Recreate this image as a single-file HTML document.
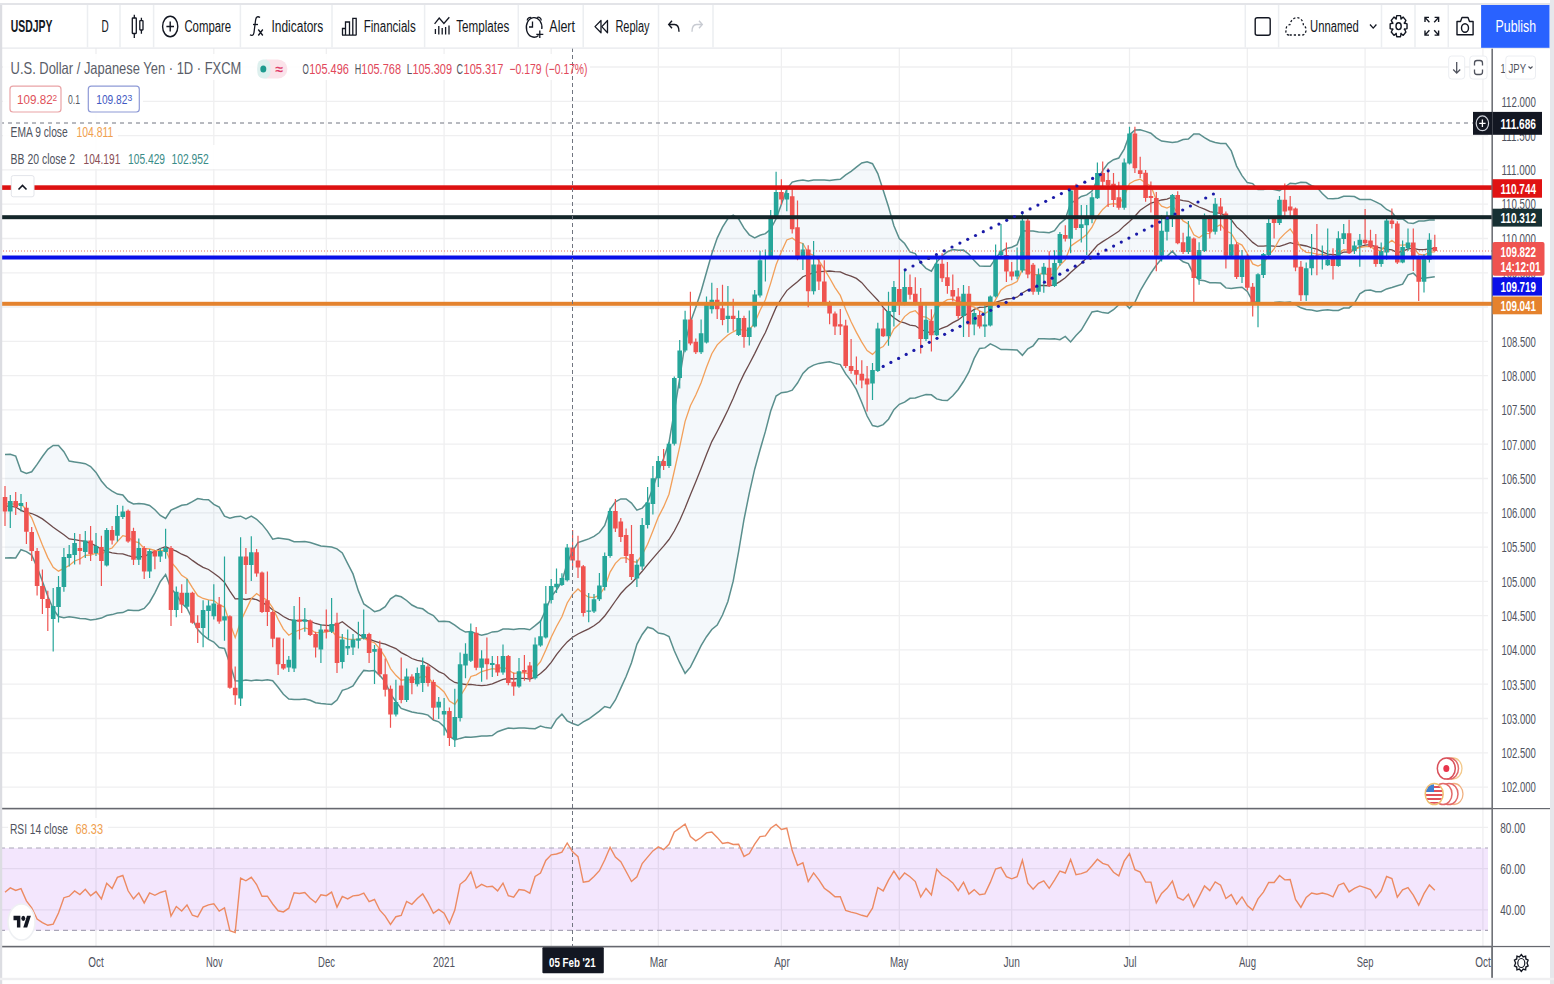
<!DOCTYPE html><html><head><meta charset="utf-8"><style>html,body{margin:0;padding:0;width:1554px;height:984px;overflow:hidden;background:#fff}svg{display:block}text{font-family:"Liberation Sans", sans-serif}</style></head><body>
<svg width="1554" height="984" viewBox="0 0 1554 984">
<rect width="1554" height="984" fill="#fff"/>
<rect x="0" y="848.0" width="1488" height="82.4" fill="#f3e6fd"/>
<path d="M0 67.0H1488 M0 101.3H1488 M0 135.6H1488 M0 169.9H1488 M0 204.2H1488 M0 238.5H1488 M0 272.8H1488 M0 307.0H1488 M0 341.3H1488 M0 375.6H1488 M0 409.9H1488 M0 444.2H1488 M0 478.5H1488 M0 512.8H1488 M0 547.1H1488 M0 581.4H1488 M0 615.6H1488 M0 649.9H1488 M0 684.2H1488 M0 718.5H1488 M0 752.8H1488 M0 787.1H1488 M0 827.4H1488 M0 868.6H1488 M0 909.8H1488 M96.0 48V946 M213.8 48V946 M326.3 48V946 M444.1 48V946 M551.2 48V946 M658.3 48V946 M781.4 48V946 M899.3 48V946 M1011.7 48V946 M1129.5 48V946 M1247.3 48V946 M1365.1 48V946 M1482.9 48V946" stroke="#2a2e39" stroke-opacity="0.075" stroke-width="1.3" fill="none"/>
<polygon points="5.0,454.6 10.3,454.3 15.7,456.0 21.0,471.1 26.4,473.5 31.7,471.8 37.1,464.4 42.4,456.5 47.8,449.4 53.2,445.4 58.5,445.4 63.9,451.7 69.2,461.1 74.6,462.0 79.9,462.8 85.3,463.7 90.6,466.6 96.0,472.4 101.4,481.0 106.7,487.3 112.1,491.1 117.4,494.1 122.8,495.0 128.1,501.3 133.5,503.9 138.8,503.6 144.2,504.1 149.6,505.5 154.9,509.7 160.3,515.4 165.6,518.5 171.0,510.0 176.3,507.7 181.7,505.2 187.0,504.5 192.4,501.7 197.7,498.6 203.1,499.4 208.5,499.7 213.8,504.4 219.2,507.1 224.5,516.1 229.9,518.3 235.2,516.7 240.6,516.2 245.9,518.8 251.3,516.1 256.6,519.3 262.0,524.4 267.4,531.1 272.7,539.2 278.1,538.1 283.4,538.8 288.8,539.5 294.1,541.8 299.5,541.8 304.8,541.4 310.2,542.5 315.6,544.2 320.9,546.0 326.3,546.5 331.6,547.0 337.0,548.9 342.3,553.0 347.7,563.7 353.0,573.9 358.4,590.9 363.8,604.0 369.1,607.5 374.5,611.7 379.8,610.2 385.2,606.6 390.5,598.9 395.9,595.4 401.2,596.8 406.6,600.5 411.9,605.0 417.3,607.7 422.7,608.8 428.0,612.8 433.4,615.5 438.7,621.5 444.1,621.2 449.4,621.8 454.8,625.1 460.1,629.1 465.5,632.1 470.9,631.5 476.2,633.6 481.6,635.2 486.9,634.1 492.3,631.9 497.6,631.6 503.0,629.0 508.3,629.0 513.7,629.4 519.0,628.8 524.4,628.7 529.8,629.8 535.1,625.7 540.5,621.2 545.8,609.7 551.2,596.7 556.5,590.0 561.9,581.4 567.2,563.1 572.6,551.0 578.0,542.6 583.3,540.8 588.7,538.9 594.0,536.3 599.4,532.5 604.7,525.4 610.1,509.4 615.4,501.9 620.8,498.9 626.1,499.0 631.5,503.1 636.9,510.2 642.2,508.1 647.6,502.0 652.9,488.0 658.3,471.3 663.6,458.6 669.0,442.6 674.3,411.4 679.7,378.3 685.1,343.0 690.4,322.2 695.8,307.2 701.1,291.3 706.5,272.2 711.8,253.8 717.2,238.1 722.5,227.2 727.9,218.6 733.2,215.2 738.6,218.8 744.0,228.2 749.3,234.8 754.7,237.9 760.0,235.3 765.4,233.6 770.7,229.0 776.1,218.8 781.4,204.3 786.8,189.1 792.2,182.1 797.5,180.7 802.9,180.0 808.2,181.1 813.6,180.1 818.9,179.9 824.3,180.1 829.6,180.4 835.0,179.8 840.3,179.3 845.7,174.8 851.1,171.3 856.4,167.2 861.8,163.0 867.1,161.8 872.5,163.7 877.8,173.6 883.2,190.2 888.5,206.8 893.9,225.7 899.3,238.5 904.6,243.5 910.0,251.9 915.3,253.6 920.7,262.8 926.0,268.3 931.4,271.2 936.7,262.1 942.1,256.0 947.4,251.7 952.8,249.5 958.2,250.2 963.5,250.1 968.9,254.2 974.2,260.5 979.6,266.0 984.9,266.2 990.3,266.3 995.6,258.4 1001.0,251.7 1006.4,248.5 1011.7,247.2 1017.1,244.6 1022.4,230.8 1027.8,230.9 1033.1,231.1 1038.5,232.0 1043.8,232.3 1049.2,232.8 1054.5,230.7 1059.9,223.6 1065.3,219.1 1070.6,203.3 1076.0,200.2 1081.3,196.5 1086.7,194.9 1092.0,191.1 1097.4,179.6 1102.7,170.6 1108.1,163.4 1113.5,159.7 1118.8,158.0 1124.2,149.1 1129.5,134.8 1134.9,130.1 1140.2,129.8 1145.6,131.4 1150.9,133.2 1156.3,137.9 1161.6,141.1 1167.0,141.8 1172.4,142.5 1177.7,141.7 1183.1,139.6 1188.4,139.1 1193.8,133.9 1199.1,133.9 1204.5,137.7 1209.8,140.7 1215.2,142.5 1220.6,143.4 1225.9,143.5 1231.3,150.9 1236.6,166.1 1242.0,175.6 1247.3,182.6 1252.7,183.6 1258.0,189.5 1263.4,189.5 1268.7,188.6 1274.1,189.5 1279.5,190.6 1284.8,187.0 1290.2,183.2 1295.5,183.8 1300.9,182.3 1306.2,182.5 1311.6,185.7 1316.9,187.3 1322.3,193.5 1327.7,198.5 1333.0,198.8 1338.4,198.2 1343.7,196.3 1349.1,196.2 1354.4,196.5 1359.8,199.5 1365.1,199.6 1370.5,199.4 1375.8,201.9 1381.2,204.6 1386.6,209.5 1391.9,212.2 1397.3,219.1 1402.6,218.8 1408.0,222.9 1413.3,223.5 1418.7,221.0 1424.0,221.0 1429.4,220.0 1434.8,220.0 1434.8,276.8 1429.4,277.6 1424.0,278.3 1418.7,278.3 1413.3,273.1 1408.0,274.8 1402.6,284.1 1397.3,285.8 1391.9,287.5 1386.6,288.9 1381.2,291.7 1375.8,291.7 1370.5,290.0 1365.1,290.6 1359.8,293.8 1354.4,303.3 1349.1,307.9 1343.7,308.1 1338.4,310.5 1333.0,310.6 1327.7,309.8 1322.3,310.2 1316.9,311.2 1311.6,310.1 1306.2,309.5 1300.9,307.8 1295.5,304.6 1290.2,302.1 1284.8,302.4 1279.5,302.0 1274.1,302.6 1268.7,302.9 1263.4,302.7 1258.0,302.9 1252.7,301.3 1247.3,291.5 1242.0,287.2 1236.6,287.8 1231.3,288.6 1225.9,287.9 1220.6,283.1 1215.2,282.7 1209.8,282.7 1204.5,280.7 1199.1,280.1 1193.8,274.8 1188.4,263.6 1183.1,261.8 1177.7,257.4 1172.4,251.2 1167.0,256.4 1161.6,258.8 1156.3,265.3 1150.9,273.0 1145.6,281.6 1140.2,290.9 1134.9,302.3 1129.5,308.3 1124.2,302.7 1118.8,304.6 1113.5,309.7 1108.1,313.2 1102.7,312.6 1097.4,311.0 1092.0,311.9 1086.7,320.8 1081.3,330.1 1076.0,335.4 1070.6,341.9 1065.3,336.4 1059.9,339.7 1054.5,338.8 1049.2,339.0 1043.8,338.7 1038.5,338.8 1033.1,345.8 1027.8,348.8 1022.4,355.3 1017.1,349.9 1011.7,349.7 1006.4,349.5 1001.0,349.6 995.6,346.4 990.3,343.9 984.9,347.9 979.6,348.5 974.2,358.4 968.9,371.9 963.5,381.5 958.2,389.5 952.8,395.7 947.4,400.5 942.1,400.2 936.7,398.9 931.4,394.8 926.0,394.6 920.7,396.1 915.3,398.0 910.0,398.3 904.6,402.2 899.3,404.3 893.9,409.6 888.5,419.2 883.2,424.6 877.8,426.8 872.5,425.5 867.1,416.0 861.8,402.5 856.4,389.7 851.1,380.8 845.7,373.9 840.3,364.6 835.0,363.4 829.6,361.7 824.3,362.6 818.9,363.4 813.6,365.1 808.2,368.1 802.9,373.4 797.5,383.0 792.2,390.1 786.8,392.1 781.4,392.7 776.1,396.1 770.7,411.0 765.4,431.4 760.0,450.0 754.7,469.2 749.3,493.1 744.0,519.5 738.6,551.7 733.2,581.2 727.9,601.5 722.5,615.0 717.2,625.0 711.8,629.5 706.5,636.7 701.1,645.6 695.8,656.3 690.4,667.2 685.1,673.3 679.7,662.7 674.3,650.7 669.0,636.5 663.6,633.9 658.3,633.0 652.9,628.7 647.6,627.2 642.2,634.5 636.9,644.3 631.5,662.8 626.1,676.5 620.8,688.1 615.4,700.0 610.1,708.0 604.7,706.5 599.4,711.1 594.0,715.1 588.7,719.0 583.3,721.8 578.0,725.5 572.6,723.5 567.2,720.8 561.9,714.1 556.5,719.4 551.2,728.2 545.8,727.6 540.5,726.0 535.1,728.7 529.8,728.4 524.4,728.1 519.0,728.1 513.7,728.6 508.3,728.0 503.0,729.7 497.6,731.7 492.3,735.6 486.9,736.1 481.6,736.0 476.2,736.7 470.9,737.3 465.5,737.0 460.1,738.4 454.8,739.9 449.4,736.2 444.1,726.8 438.7,721.8 433.4,720.0 428.0,715.1 422.7,713.7 417.3,713.1 411.9,712.0 406.6,710.2 401.2,708.4 395.9,701.7 390.5,694.0 385.2,681.7 379.8,675.6 374.5,670.5 369.1,671.0 363.8,670.4 358.4,677.5 353.0,685.9 347.7,688.6 342.3,690.3 337.0,700.0 331.6,704.4 326.3,704.1 320.9,703.6 315.6,702.8 310.2,700.3 304.8,698.9 299.5,699.4 294.1,699.5 288.8,699.1 283.4,694.3 278.1,687.3 272.7,680.8 267.4,679.8 262.0,680.4 256.6,679.9 251.3,680.8 245.9,680.1 240.6,681.0 235.2,680.8 229.9,663.8 224.5,648.5 219.2,647.5 213.8,642.0 208.5,639.3 203.1,635.2 197.7,629.6 192.4,619.1 187.0,608.1 181.7,603.2 176.3,594.5 171.0,588.5 165.6,574.6 160.3,581.7 154.9,592.8 149.6,602.2 144.2,608.4 138.8,610.4 133.5,610.4 128.1,610.1 122.8,612.6 117.4,613.1 112.1,614.6 106.7,615.5 101.4,618.1 96.0,619.3 90.6,620.0 85.3,618.8 79.9,618.4 74.6,617.5 69.2,616.8 63.9,617.8 58.5,616.5 53.2,609.1 47.8,596.3 42.4,581.3 37.1,567.3 31.7,555.1 26.4,551.6 21.0,549.7 15.7,558.0 10.3,557.8 5.0,557.9" fill="#3d8bc0" fill-opacity="0.06"/>
<polyline points="5.0,454.6 10.3,454.3 15.7,456.0 21.0,471.1 26.4,473.5 31.7,471.8 37.1,464.4 42.4,456.5 47.8,449.4 53.2,445.4 58.5,445.4 63.9,451.7 69.2,461.1 74.6,462.0 79.9,462.8 85.3,463.7 90.6,466.6 96.0,472.4 101.4,481.0 106.7,487.3 112.1,491.1 117.4,494.1 122.8,495.0 128.1,501.3 133.5,503.9 138.8,503.6 144.2,504.1 149.6,505.5 154.9,509.7 160.3,515.4 165.6,518.5 171.0,510.0 176.3,507.7 181.7,505.2 187.0,504.5 192.4,501.7 197.7,498.6 203.1,499.4 208.5,499.7 213.8,504.4 219.2,507.1 224.5,516.1 229.9,518.3 235.2,516.7 240.6,516.2 245.9,518.8 251.3,516.1 256.6,519.3 262.0,524.4 267.4,531.1 272.7,539.2 278.1,538.1 283.4,538.8 288.8,539.5 294.1,541.8 299.5,541.8 304.8,541.4 310.2,542.5 315.6,544.2 320.9,546.0 326.3,546.5 331.6,547.0 337.0,548.9 342.3,553.0 347.7,563.7 353.0,573.9 358.4,590.9 363.8,604.0 369.1,607.5 374.5,611.7 379.8,610.2 385.2,606.6 390.5,598.9 395.9,595.4 401.2,596.8 406.6,600.5 411.9,605.0 417.3,607.7 422.7,608.8 428.0,612.8 433.4,615.5 438.7,621.5 444.1,621.2 449.4,621.8 454.8,625.1 460.1,629.1 465.5,632.1 470.9,631.5 476.2,633.6 481.6,635.2 486.9,634.1 492.3,631.9 497.6,631.6 503.0,629.0 508.3,629.0 513.7,629.4 519.0,628.8 524.4,628.7 529.8,629.8 535.1,625.7 540.5,621.2 545.8,609.7 551.2,596.7 556.5,590.0 561.9,581.4 567.2,563.1 572.6,551.0 578.0,542.6 583.3,540.8 588.7,538.9 594.0,536.3 599.4,532.5 604.7,525.4 610.1,509.4 615.4,501.9 620.8,498.9 626.1,499.0 631.5,503.1 636.9,510.2 642.2,508.1 647.6,502.0 652.9,488.0 658.3,471.3 663.6,458.6 669.0,442.6 674.3,411.4 679.7,378.3 685.1,343.0 690.4,322.2 695.8,307.2 701.1,291.3 706.5,272.2 711.8,253.8 717.2,238.1 722.5,227.2 727.9,218.6 733.2,215.2 738.6,218.8 744.0,228.2 749.3,234.8 754.7,237.9 760.0,235.3 765.4,233.6 770.7,229.0 776.1,218.8 781.4,204.3 786.8,189.1 792.2,182.1 797.5,180.7 802.9,180.0 808.2,181.1 813.6,180.1 818.9,179.9 824.3,180.1 829.6,180.4 835.0,179.8 840.3,179.3 845.7,174.8 851.1,171.3 856.4,167.2 861.8,163.0 867.1,161.8 872.5,163.7 877.8,173.6 883.2,190.2 888.5,206.8 893.9,225.7 899.3,238.5 904.6,243.5 910.0,251.9 915.3,253.6 920.7,262.8 926.0,268.3 931.4,271.2 936.7,262.1 942.1,256.0 947.4,251.7 952.8,249.5 958.2,250.2 963.5,250.1 968.9,254.2 974.2,260.5 979.6,266.0 984.9,266.2 990.3,266.3 995.6,258.4 1001.0,251.7 1006.4,248.5 1011.7,247.2 1017.1,244.6 1022.4,230.8 1027.8,230.9 1033.1,231.1 1038.5,232.0 1043.8,232.3 1049.2,232.8 1054.5,230.7 1059.9,223.6 1065.3,219.1 1070.6,203.3 1076.0,200.2 1081.3,196.5 1086.7,194.9 1092.0,191.1 1097.4,179.6 1102.7,170.6 1108.1,163.4 1113.5,159.7 1118.8,158.0 1124.2,149.1 1129.5,134.8 1134.9,130.1 1140.2,129.8 1145.6,131.4 1150.9,133.2 1156.3,137.9 1161.6,141.1 1167.0,141.8 1172.4,142.5 1177.7,141.7 1183.1,139.6 1188.4,139.1 1193.8,133.9 1199.1,133.9 1204.5,137.7 1209.8,140.7 1215.2,142.5 1220.6,143.4 1225.9,143.5 1231.3,150.9 1236.6,166.1 1242.0,175.6 1247.3,182.6 1252.7,183.6 1258.0,189.5 1263.4,189.5 1268.7,188.6 1274.1,189.5 1279.5,190.6 1284.8,187.0 1290.2,183.2 1295.5,183.8 1300.9,182.3 1306.2,182.5 1311.6,185.7 1316.9,187.3 1322.3,193.5 1327.7,198.5 1333.0,198.8 1338.4,198.2 1343.7,196.3 1349.1,196.2 1354.4,196.5 1359.8,199.5 1365.1,199.6 1370.5,199.4 1375.8,201.9 1381.2,204.6 1386.6,209.5 1391.9,212.2 1397.3,219.1 1402.6,218.8 1408.0,222.9 1413.3,223.5 1418.7,221.0 1424.0,221.0 1429.4,220.0 1434.8,220.0" fill="none" stroke="#5a8f8d" stroke-width="1.5"/>
<polyline points="5.0,557.9 10.3,557.8 15.7,558.0 21.0,549.7 26.4,551.6 31.7,555.1 37.1,567.3 42.4,581.3 47.8,596.3 53.2,609.1 58.5,616.5 63.9,617.8 69.2,616.8 74.6,617.5 79.9,618.4 85.3,618.8 90.6,620.0 96.0,619.3 101.4,618.1 106.7,615.5 112.1,614.6 117.4,613.1 122.8,612.6 128.1,610.1 133.5,610.4 138.8,610.4 144.2,608.4 149.6,602.2 154.9,592.8 160.3,581.7 165.6,574.6 171.0,588.5 176.3,594.5 181.7,603.2 187.0,608.1 192.4,619.1 197.7,629.6 203.1,635.2 208.5,639.3 213.8,642.0 219.2,647.5 224.5,648.5 229.9,663.8 235.2,680.8 240.6,681.0 245.9,680.1 251.3,680.8 256.6,679.9 262.0,680.4 267.4,679.8 272.7,680.8 278.1,687.3 283.4,694.3 288.8,699.1 294.1,699.5 299.5,699.4 304.8,698.9 310.2,700.3 315.6,702.8 320.9,703.6 326.3,704.1 331.6,704.4 337.0,700.0 342.3,690.3 347.7,688.6 353.0,685.9 358.4,677.5 363.8,670.4 369.1,671.0 374.5,670.5 379.8,675.6 385.2,681.7 390.5,694.0 395.9,701.7 401.2,708.4 406.6,710.2 411.9,712.0 417.3,713.1 422.7,713.7 428.0,715.1 433.4,720.0 438.7,721.8 444.1,726.8 449.4,736.2 454.8,739.9 460.1,738.4 465.5,737.0 470.9,737.3 476.2,736.7 481.6,736.0 486.9,736.1 492.3,735.6 497.6,731.7 503.0,729.7 508.3,728.0 513.7,728.6 519.0,728.1 524.4,728.1 529.8,728.4 535.1,728.7 540.5,726.0 545.8,727.6 551.2,728.2 556.5,719.4 561.9,714.1 567.2,720.8 572.6,723.5 578.0,725.5 583.3,721.8 588.7,719.0 594.0,715.1 599.4,711.1 604.7,706.5 610.1,708.0 615.4,700.0 620.8,688.1 626.1,676.5 631.5,662.8 636.9,644.3 642.2,634.5 647.6,627.2 652.9,628.7 658.3,633.0 663.6,633.9 669.0,636.5 674.3,650.7 679.7,662.7 685.1,673.3 690.4,667.2 695.8,656.3 701.1,645.6 706.5,636.7 711.8,629.5 717.2,625.0 722.5,615.0 727.9,601.5 733.2,581.2 738.6,551.7 744.0,519.5 749.3,493.1 754.7,469.2 760.0,450.0 765.4,431.4 770.7,411.0 776.1,396.1 781.4,392.7 786.8,392.1 792.2,390.1 797.5,383.0 802.9,373.4 808.2,368.1 813.6,365.1 818.9,363.4 824.3,362.6 829.6,361.7 835.0,363.4 840.3,364.6 845.7,373.9 851.1,380.8 856.4,389.7 861.8,402.5 867.1,416.0 872.5,425.5 877.8,426.8 883.2,424.6 888.5,419.2 893.9,409.6 899.3,404.3 904.6,402.2 910.0,398.3 915.3,398.0 920.7,396.1 926.0,394.6 931.4,394.8 936.7,398.9 942.1,400.2 947.4,400.5 952.8,395.7 958.2,389.5 963.5,381.5 968.9,371.9 974.2,358.4 979.6,348.5 984.9,347.9 990.3,343.9 995.6,346.4 1001.0,349.6 1006.4,349.5 1011.7,349.7 1017.1,349.9 1022.4,355.3 1027.8,348.8 1033.1,345.8 1038.5,338.8 1043.8,338.7 1049.2,339.0 1054.5,338.8 1059.9,339.7 1065.3,336.4 1070.6,341.9 1076.0,335.4 1081.3,330.1 1086.7,320.8 1092.0,311.9 1097.4,311.0 1102.7,312.6 1108.1,313.2 1113.5,309.7 1118.8,304.6 1124.2,302.7 1129.5,308.3 1134.9,302.3 1140.2,290.9 1145.6,281.6 1150.9,273.0 1156.3,265.3 1161.6,258.8 1167.0,256.4 1172.4,251.2 1177.7,257.4 1183.1,261.8 1188.4,263.6 1193.8,274.8 1199.1,280.1 1204.5,280.7 1209.8,282.7 1215.2,282.7 1220.6,283.1 1225.9,287.9 1231.3,288.6 1236.6,287.8 1242.0,287.2 1247.3,291.5 1252.7,301.3 1258.0,302.9 1263.4,302.7 1268.7,302.9 1274.1,302.6 1279.5,302.0 1284.8,302.4 1290.2,302.1 1295.5,304.6 1300.9,307.8 1306.2,309.5 1311.6,310.1 1316.9,311.2 1322.3,310.2 1327.7,309.8 1333.0,310.6 1338.4,310.5 1343.7,308.1 1349.1,307.9 1354.4,303.3 1359.8,293.8 1365.1,290.6 1370.5,290.0 1375.8,291.7 1381.2,291.7 1386.6,288.9 1391.9,287.5 1397.3,285.8 1402.6,284.1 1408.0,274.8 1413.3,273.1 1418.7,278.3 1424.0,278.3 1429.4,277.6 1434.8,276.8" fill="none" stroke="#5a8f8d" stroke-width="1.5"/>
<polyline points="5.0,506.2 10.3,506.1 15.7,507.0 21.0,510.4 26.4,512.5 31.7,513.5 37.1,515.9 42.4,518.9 47.8,522.9 53.2,527.2 58.5,531.0 63.9,534.8 69.2,538.9 74.6,539.7 79.9,540.6 85.3,541.3 90.6,543.3 96.0,545.8 101.4,549.5 106.7,551.4 112.1,552.8 117.4,553.6 122.8,553.8 128.1,555.7 133.5,557.1 138.8,557.0 144.2,556.3 149.6,553.9 154.9,551.3 160.3,548.5 165.6,546.6 171.0,549.2 176.3,551.1 181.7,554.2 187.0,556.3 192.4,560.4 197.7,564.1 203.1,567.3 208.5,569.5 213.8,573.2 219.2,577.3 224.5,582.3 229.9,591.1 235.2,598.8 240.6,598.6 245.9,599.5 251.3,598.5 256.6,599.6 262.0,602.4 267.4,605.4 272.7,610.0 278.1,612.7 283.4,616.5 288.8,619.3 294.1,620.6 299.5,620.6 304.8,620.1 310.2,621.4 315.6,623.5 320.9,624.8 326.3,625.3 331.6,625.7 337.0,624.5 342.3,621.7 347.7,626.1 353.0,629.9 358.4,634.2 363.8,637.2 369.1,639.2 374.5,641.1 379.8,642.9 385.2,644.1 390.5,646.4 395.9,648.6 401.2,652.6 406.6,655.3 411.9,658.5 417.3,660.4 422.7,661.3 428.0,664.0 433.4,667.8 438.7,671.6 444.1,674.0 449.4,679.0 454.8,682.5 460.1,683.7 465.5,684.5 470.9,684.4 476.2,685.1 481.6,685.6 486.9,685.1 492.3,683.8 497.6,681.7 503.0,679.4 508.3,678.5 513.7,679.0 519.0,678.4 524.4,678.4 529.8,679.1 535.1,677.2 540.5,673.6 545.8,668.7 551.2,662.4 556.5,654.7 561.9,647.8 567.2,641.9 572.6,637.3 578.0,634.0 583.3,631.3 588.7,628.9 594.0,625.7 599.4,621.8 604.7,616.0 610.1,608.7 615.4,601.0 620.8,593.5 626.1,587.7 631.5,583.0 636.9,577.3 642.2,571.3 647.6,564.6 652.9,558.4 658.3,552.1 663.6,546.2 669.0,539.5 674.3,531.0 679.7,520.5 685.1,508.1 690.4,494.7 695.8,481.8 701.1,468.4 706.5,454.4 711.8,441.6 717.2,431.5 722.5,421.1 727.9,410.0 733.2,398.2 738.6,385.2 744.0,373.9 749.3,364.0 754.7,353.6 760.0,342.7 765.4,332.5 770.7,320.0 776.1,307.4 781.4,298.5 786.8,290.6 792.2,286.1 797.5,281.8 802.9,276.7 808.2,274.6 813.6,272.6 818.9,271.7 824.3,271.4 829.6,271.0 835.0,271.6 840.3,271.9 845.7,274.4 851.1,276.1 856.4,278.4 861.8,282.7 867.1,288.9 872.5,294.6 877.8,300.2 883.2,307.4 888.5,313.0 893.9,317.7 899.3,321.4 904.6,322.9 910.0,325.1 915.3,325.8 920.7,329.5 926.0,331.4 931.4,333.0 936.7,330.5 942.1,328.1 947.4,326.1 952.8,322.6 958.2,319.9 963.5,315.8 968.9,313.0 974.2,309.4 979.6,307.3 984.9,307.1 990.3,305.1 995.6,302.4 1001.0,300.6 1006.4,299.0 1011.7,298.4 1017.1,297.2 1022.4,293.0 1027.8,289.8 1033.1,288.4 1038.5,285.4 1043.8,285.5 1049.2,285.9 1054.5,284.8 1059.9,281.6 1065.3,277.8 1070.6,272.6 1076.0,267.8 1081.3,263.3 1086.7,257.9 1092.0,251.5 1097.4,245.3 1102.7,241.6 1108.1,238.3 1113.5,234.7 1118.8,231.3 1124.2,225.9 1129.5,221.5 1134.9,216.2 1140.2,210.3 1145.6,206.5 1150.9,203.1 1156.3,201.6 1161.6,200.0 1167.0,199.1 1172.4,196.9 1177.7,199.5 1183.1,200.7 1188.4,201.3 1193.8,204.4 1199.1,207.0 1204.5,209.2 1209.8,211.7 1215.2,212.6 1220.6,213.3 1225.9,215.7 1231.3,219.8 1236.6,226.9 1242.0,231.4 1247.3,237.1 1252.7,242.4 1258.0,246.2 1263.4,246.1 1268.7,245.7 1274.1,246.1 1279.5,246.3 1284.8,244.7 1290.2,242.6 1295.5,244.2 1300.9,245.0 1306.2,246.0 1311.6,247.9 1316.9,249.2 1322.3,251.8 1327.7,254.2 1333.0,254.7 1338.4,254.4 1343.7,252.2 1349.1,252.0 1354.4,249.9 1359.8,246.6 1365.1,245.1 1370.5,244.7 1375.8,246.8 1381.2,248.2 1386.6,249.2 1391.9,249.9 1397.3,252.5 1402.6,251.4 1408.0,248.8 1413.3,248.3 1418.7,249.6 1424.0,249.6 1429.4,248.8 1434.8,248.4" fill="none" stroke="#6b4a4a" stroke-width="1.3"/>
<polyline points="5.0,504.2 10.3,503.6 15.7,504.3 21.0,504.0 26.4,509.6 31.7,517.8 37.1,531.5 42.4,545.0 47.8,557.6 53.2,567.3 58.5,571.2 63.9,568.4 69.2,565.5 74.6,561.0 79.9,559.0 85.3,555.3 90.6,555.0 96.0,553.2 101.4,554.8 106.7,549.8 112.1,548.0 117.4,541.6 122.8,535.6 128.1,536.8 133.5,541.4 138.8,542.7 144.2,548.4 149.6,549.0 154.9,550.5 160.3,550.6 165.6,550.1 171.0,562.0 176.3,568.0 181.7,575.3 187.0,578.8 192.4,587.6 197.7,595.7 203.1,598.5 208.5,599.9 213.8,600.6 219.2,604.8 224.5,607.1 229.9,623.2 235.2,637.6 240.6,621.4 245.9,610.1 251.3,598.6 256.6,593.6 262.0,597.3 267.4,600.2 272.7,607.9 278.1,619.2 283.4,629.1 288.8,635.2 294.1,632.0 299.5,630.0 304.8,627.9 310.2,629.3 315.6,632.9 320.9,632.2 326.3,632.1 331.6,630.5 337.0,637.0 342.3,637.5 347.7,639.2 353.0,639.3 358.4,639.1 363.8,638.1 369.1,641.1 374.5,642.7 379.8,649.0 385.2,657.1 390.5,668.6 395.9,675.3 401.2,680.2 406.6,679.4 411.9,680.2 417.3,678.7 422.7,676.0 428.0,677.4 433.4,683.5 438.7,687.1 444.1,691.9 449.4,701.1 454.8,704.3 460.1,696.3 465.5,687.8 470.9,676.5 476.2,674.8 481.6,671.5 486.9,670.1 492.3,668.7 497.6,669.4 503.0,666.7 508.3,670.0 513.7,673.3 519.0,672.9 524.4,672.8 529.8,673.9 535.1,668.0 540.5,661.7 545.8,650.1 551.2,637.3 556.5,626.5 561.9,616.8 567.2,603.0 572.6,594.4 578.0,589.0 583.3,593.8 588.7,597.2 594.0,597.6 599.4,595.2 604.7,587.3 610.1,572.1 615.4,563.3 620.8,558.1 626.1,557.7 631.5,561.5 636.9,562.2 642.2,554.7 647.6,544.3 652.9,531.1 658.3,517.1 663.6,506.9 669.0,494.2 674.3,471.0 679.7,446.9 685.1,421.4 690.4,405.8 695.8,395.1 701.1,382.7 706.5,367.2 711.8,353.7 717.2,344.8 722.5,339.8 727.9,335.0 733.2,331.8 738.6,329.0 744.0,330.6 749.3,330.0 754.7,322.9 760.0,310.4 765.4,299.7 770.7,283.1 776.1,264.8 781.4,251.8 786.8,240.0 792.2,237.9 797.5,241.9 802.9,243.5 808.2,253.0 813.6,255.3 818.9,260.6 824.3,269.1 829.6,278.0 835.0,287.6 840.3,295.4 845.7,309.5 851.1,321.8 856.4,332.4 861.8,342.1 867.1,350.5 872.5,354.4 877.8,349.2 883.2,346.6 888.5,339.5 893.9,329.0 899.3,324.1 904.6,316.6 910.0,312.3 915.3,310.7 920.7,316.3 926.0,317.0 931.4,320.7 936.7,309.3 942.1,303.1 947.4,299.7 952.8,299.1 958.2,302.4 963.5,300.7 968.9,305.5 974.2,307.0 979.6,310.9 984.9,313.6 990.3,310.2 995.6,299.6 1001.0,289.9 1006.4,286.2 1011.7,284.3 1017.1,281.5 1022.4,269.3 1027.8,270.3 1033.1,274.6 1038.5,274.6 1043.8,273.0 1049.2,275.6 1054.5,273.1 1059.9,265.2 1065.3,259.9 1070.6,246.1 1076.0,242.4 1081.3,238.8 1086.7,234.5 1092.0,227.1 1097.4,216.3 1102.7,209.4 1108.1,204.6 1113.5,203.7 1118.8,204.5 1124.2,196.1 1129.5,183.6 1134.9,180.5 1140.2,179.2 1145.6,183.0 1150.9,186.0 1156.3,199.9 1161.6,206.1 1167.0,208.1 1172.4,205.5 1177.7,213.1 1183.1,220.9 1188.4,224.0 1193.8,234.8 1199.1,237.8 1204.5,233.7 1209.8,233.3 1215.2,227.4 1220.6,224.6 1225.9,230.8 1231.3,233.5 1236.6,242.2 1242.0,245.1 1247.3,253.6 1252.7,263.9 1258.0,266.0 1263.4,263.6 1268.7,255.4 1274.1,249.0 1279.5,239.1 1284.8,233.6 1290.2,229.0 1295.5,236.7 1300.9,248.4 1306.2,252.3 1311.6,252.9 1316.9,254.2 1322.3,254.5 1327.7,255.6 1333.0,257.6 1338.4,253.8 1343.7,249.7 1349.1,250.4 1354.4,249.4 1359.8,247.5 1365.1,246.6 1370.5,246.7 1375.8,250.1 1381.2,250.3 1386.6,244.4 1391.9,240.3 1397.3,244.8 1402.6,245.2 1408.0,244.7 1413.3,247.4 1418.7,254.2 1424.0,255.2 1429.4,252.1 1434.8,251.9" fill="none" stroke="#f2a05a" stroke-width="1.3"/>
<path d="M9.7 495.0h1.2V528.0h-1.2Z M8.0 501.0h4.6V511.5h-4.6Z M20.4 494.0h1.2V511.5h-1.2Z M18.7 503.0h4.6V506.0h-4.6Z M52.6 588.0h1.2V651.6h-1.2Z M50.9 606.0h4.6V619.0h-4.6Z M57.9 576.0h1.2V622.6h-1.2Z M56.2 587.0h4.6V607.0h-4.6Z M63.3 548.0h1.2V591.7h-1.2Z M61.6 557.0h4.6V587.0h-4.6Z M68.6 545.0h1.2V566.6h-1.2Z M66.9 554.0h4.6V558.0h-4.6Z M74.0 533.0h1.2V564.6h-1.2Z M72.3 543.0h4.6V555.0h-4.6Z M84.7 531.0h1.2V558.0h-1.2Z M83.0 540.5h4.6V552.0h-4.6Z M95.4 533.0h1.2V556.0h-1.2Z M93.7 546.0h4.6V553.0h-4.6Z M106.1 528.0h1.2V566.6h-1.2Z M104.4 530.0h4.6V565.6h-4.6Z M116.8 505.0h1.2V541.5h-1.2Z M115.1 516.0h4.6V535.7h-4.6Z M122.2 505.7h1.2V519.0h-1.2Z M120.5 511.5h4.6V517.0h-4.6Z M138.2 538.4h1.2V565.0h-1.2Z M136.5 548.0h4.6V559.7h-4.6Z M149.0 549.0h1.2V577.9h-1.2Z M147.2 551.0h4.6V571.5h-4.6Z M159.7 548.0h1.2V561.9h-1.2Z M158.0 551.0h4.6V556.5h-4.6Z M165.0 528.8h1.2V558.7h-1.2Z M163.3 548.0h4.6V552.0h-4.6Z M175.7 586.4h1.2V617.3h-1.2Z M174.0 591.7h4.6V610.0h-4.6Z M186.4 579.0h1.2V608.8h-1.2Z M184.7 592.8h4.6V606.7h-4.6Z M202.5 600.3h1.2V647.2h-1.2Z M200.8 609.9h4.6V628.0h-4.6Z M207.9 600.3h1.2V638.7h-1.2Z M206.2 605.6h4.6V611.0h-4.6Z M213.2 584.3h1.2V619.5h-1.2Z M211.5 603.5h4.6V616.3h-4.6Z M223.9 556.5h1.2V640.8h-1.2Z M222.2 616.3h4.6V620.5h-4.6Z M240.0 537.3h1.2V705.9h-1.2Z M238.3 556.5h4.6V698.4h-4.6Z M250.7 536.3h1.2V581.0h-1.2Z M249.0 552.3h4.6V565.0h-4.6Z M288.2 656.0h1.2V672.0h-1.2Z M286.5 659.7h4.6V667.5h-4.6Z M293.5 606.0h1.2V672.0h-1.2Z M291.8 619.4h4.6V668.6h-4.6Z M304.2 608.0h1.2V631.7h-1.2Z M302.5 619.4h4.6V621.7h-4.6Z M320.3 624.0h1.2V663.0h-1.2Z M318.6 629.5h4.6V649.6h-4.6Z M331.0 598.0h1.2V633.0h-1.2Z M329.3 624.0h4.6V631.7h-4.6Z M341.7 634.0h1.2V668.6h-1.2Z M340.0 639.6h4.6V661.9h-4.6Z M347.1 629.5h1.2V655.0h-1.2Z M345.4 646.0h4.6V648.5h-4.6Z M352.4 634.0h1.2V655.0h-1.2Z M350.7 639.6h4.6V647.4h-4.6Z M357.8 621.7h1.2V648.5h-1.2Z M356.1 638.4h4.6V640.7h-4.6Z M363.1 609.4h1.2V639.6h-1.2Z M361.4 634.0h4.6V638.4h-4.6Z M373.9 645.0h1.2V684.0h-1.2Z M372.2 649.0h4.6V651.8h-4.6Z M395.3 679.8h1.2V716.6h-1.2Z M393.6 702.0h4.6V714.4h-4.6Z M406.0 668.6h1.2V702.0h-1.2Z M404.3 676.4h4.6V699.9h-4.6Z M416.7 667.5h1.2V686.5h-1.2Z M415.0 673.0h4.6V684.2h-4.6Z M422.1 657.4h1.2V692.0h-1.2Z M420.4 665.0h4.6V683.0h-4.6Z M438.1 697.0h1.2V719.0h-1.2Z M436.4 701.7h4.6V707.5h-4.6Z M443.5 698.0h1.2V735.6h-1.2Z M441.8 711.0h4.6V714.5h-4.6Z M454.2 688.8h1.2V747.0h-1.2Z M452.5 716.9h4.6V739.0h-4.6Z M459.5 652.6h1.2V721.5h-1.2Z M457.8 664.3h4.6V718.0h-4.6Z M464.9 643.3h1.2V678.3h-1.2Z M463.2 653.8h4.6V665.5h-4.6Z M470.2 623.4h1.2V662.0h-1.2Z M468.6 631.6h4.6V660.8h-4.6Z M481.0 650.3h1.2V681.8h-1.2Z M479.3 658.5h4.6V667.8h-4.6Z M491.7 656.0h1.2V677.0h-1.2Z M490.0 663.0h4.6V665.0h-4.6Z M502.4 644.5h1.2V674.8h-1.2Z M500.7 656.0h4.6V672.5h-4.6Z M518.4 658.0h1.2V687.7h-1.2Z M516.7 671.3h4.6V686.5h-4.6Z M534.5 637.5h1.2V679.5h-1.2Z M532.8 644.5h4.6V678.3h-4.6Z M539.9 620.0h1.2V646.8h-1.2Z M538.2 636.3h4.6V645.6h-4.6Z M545.2 586.0h1.2V638.6h-1.2Z M543.5 603.6h4.6V637.5h-4.6Z M550.6 579.0h1.2V603.6h-1.2Z M548.9 586.0h4.6V600.0h-4.6Z M555.9 568.5h1.2V593.0h-1.2Z M554.2 583.7h4.6V587.2h-4.6Z M561.3 573.2h1.2V586.0h-1.2Z M559.6 577.9h4.6V584.9h-4.6Z M566.6 544.0h1.2V581.4h-1.2Z M564.9 547.5h4.6V580.2h-4.6Z M588.1 593.0h1.2V622.3h-1.2Z M586.4 610.6h4.6V611.8h-4.6Z M593.4 594.0h1.2V613.0h-1.2Z M591.7 599.3h4.6V611.4h-4.6Z M598.8 573.0h1.2V601.0h-1.2Z M597.1 585.4h4.6V599.3h-4.6Z M604.1 552.6h1.2V590.6h-1.2Z M602.4 556.0h4.6V587.0h-4.6Z M609.5 507.7h1.2V557.8h-1.2Z M607.8 511.0h4.6V556.0h-4.6Z M636.3 559.5h1.2V587.0h-1.2Z M634.6 564.7h4.6V578.5h-4.6Z M641.6 518.0h1.2V570.0h-1.2Z M639.9 525.0h4.6V566.4h-4.6Z M647.0 487.0h1.2V528.4h-1.2Z M645.3 502.5h4.6V525.0h-4.6Z M652.3 466.0h1.2V514.6h-1.2Z M650.6 478.3h4.6V504.0h-4.6Z M657.7 456.0h1.2V487.0h-1.2Z M656.0 461.0h4.6V478.3h-4.6Z M668.4 442.0h1.2V468.0h-1.2Z M666.7 443.8h4.6V466.0h-4.6Z M673.7 376.4h1.2V445.5h-1.2Z M672.0 378.0h4.6V443.8h-4.6Z M679.1 340.0h1.2V388.5h-1.2Z M677.4 350.5h4.6V378.0h-4.6Z M684.5 310.7h1.2V352.2h-1.2Z M682.8 319.4h4.6V350.5h-4.6Z M700.5 319.4h1.2V354.0h-1.2Z M698.8 333.2h4.6V352.2h-4.6Z M705.9 296.5h1.2V343.5h-1.2Z M704.2 305.0h4.6V342.4h-4.6Z M711.2 282.7h1.2V313.6h-1.2Z M709.5 299.7h4.6V309.3h-4.6Z M727.3 285.9h1.2V332.8h-1.2Z M725.6 315.7h4.6V319.0h-4.6Z M738.0 310.4h1.2V336.0h-1.2Z M736.3 317.9h4.6V335.0h-4.6Z M748.7 310.4h1.2V345.6h-1.2Z M747.0 327.5h4.6V337.0h-4.6Z M754.1 290.0h1.2V327.5h-1.2Z M752.4 294.4h4.6V326.4h-4.6Z M759.4 250.7h1.2V297.6h-1.2Z M757.7 260.3h4.6V295.5h-4.6Z M764.8 249.6h1.2V281.6h-1.2Z M763.1 257.0h4.6V259.0h-4.6Z M770.1 210.0h1.2V257.0h-1.2Z M768.4 216.5h4.6V256.0h-4.6Z M775.5 171.7h1.2V218.7h-1.2Z M773.8 192.0h4.6V216.5h-4.6Z M786.2 186.7h1.2V211.2h-1.2Z M784.5 193.0h4.6V199.5h-4.6Z M802.3 243.2h1.2V269.9h-1.2Z M800.6 249.6h4.6V258.1h-4.6Z M813.0 241.0h1.2V294.4h-1.2Z M811.3 264.5h4.6V291.2h-4.6Z M871.9 363.0h1.2V400.0h-1.2Z M870.2 370.0h4.6V383.5h-4.6Z M877.2 322.7h1.2V371.9h-1.2Z M875.5 328.5h4.6V371.0h-4.6Z M887.9 291.8h1.2V345.8h-1.2Z M886.2 311.0h4.6V336.2h-4.6Z M893.3 281.0h1.2V326.5h-1.2Z M891.6 287.0h4.6V312.0h-4.6Z M904.0 269.6h1.2V305.3h-1.2Z M902.3 287.0h4.6V303.4h-4.6Z M925.4 304.3h1.2V341.0h-1.2Z M923.7 319.8h4.6V339.0h-4.6Z M936.1 255.0h1.2V336.0h-1.2Z M934.4 263.8h4.6V335.2h-4.6Z M962.9 285.0h1.2V337.0h-1.2Z M961.2 293.7h4.6V316.0h-4.6Z M973.6 310.1h1.2V335.2h-1.2Z M971.9 313.0h4.6V324.6h-4.6Z M984.3 302.4h1.2V337.1h-1.2Z M982.6 324.6h4.6V326.5h-4.6Z M989.7 295.6h1.2V326.5h-1.2Z M988.0 296.6h4.6V325.6h-4.6Z M995.0 244.5h1.2V297.6h-1.2Z M993.3 257.0h4.6V296.6h-4.6Z M1000.4 224.0h1.2V257.0h-1.2Z M998.7 251.3h4.6V255.0h-4.6Z M1016.5 247.4h1.2V279.3h-1.2Z M1014.8 270.6h4.6V276.4h-4.6Z M1021.8 212.7h1.2V272.5h-1.2Z M1020.1 220.4h4.6V270.6h-4.6Z M1037.9 268.6h1.2V294.7h-1.2Z M1036.2 274.4h4.6V291.8h-4.6Z M1043.2 262.9h1.2V292.8h-1.2Z M1041.5 266.7h4.6V274.4h-4.6Z M1053.9 250.3h1.2V287.0h-1.2Z M1052.2 262.9h4.6V286.0h-4.6Z M1059.3 232.0h1.2V265.8h-1.2Z M1057.6 234.0h4.6V262.9h-4.6Z M1070.0 188.5h1.2V253.2h-1.2Z M1068.3 190.5h4.6V238.7h-4.6Z M1080.7 205.0h1.2V242.6h-1.2Z M1079.0 224.2h4.6V228.0h-4.6Z M1086.1 205.0h1.2V255.1h-1.2Z M1084.4 217.5h4.6V225.2h-4.6Z M1091.4 192.4h1.2V223.3h-1.2Z M1089.7 197.2h4.6V218.5h-4.6Z M1096.8 162.5h1.2V199.0h-1.2Z M1095.1 173.1h4.6V198.2h-4.6Z M1123.6 158.6h1.2V209.8h-1.2Z M1121.9 162.5h4.6V207.8h-4.6Z M1128.9 126.8h1.2V164.4h-1.2Z M1127.2 133.5h4.6V163.4h-4.6Z M1161.0 215.3h1.2V261.6h-1.2Z M1159.3 230.7h4.6V255.8h-4.6Z M1166.4 211.4h1.2V240.4h-1.2Z M1164.7 216.3h4.6V231.7h-4.6Z M1171.8 194.0h1.2V226.9h-1.2Z M1170.1 195.0h4.6V217.2h-4.6Z M1187.8 221.1h1.2V253.9h-1.2Z M1186.1 236.5h4.6V252.0h-4.6Z M1198.5 242.3h1.2V284.8h-1.2Z M1196.8 250.0h4.6V279.0h-4.6Z M1203.9 213.4h1.2V252.0h-1.2Z M1202.2 217.2h4.6V251.0h-4.6Z M1214.6 197.9h1.2V234.6h-1.2Z M1212.9 203.7h4.6V231.7h-4.6Z M1230.7 219.2h1.2V257.8h-1.2Z M1229.0 244.2h4.6V255.8h-4.6Z M1241.4 250.0h1.2V282.9h-1.2Z M1239.7 256.8h4.6V277.0h-4.6Z M1257.4 273.2h1.2V327.3h-1.2Z M1255.7 274.2h4.6V305.0h-4.6Z M1262.8 252.9h1.2V278.0h-1.2Z M1261.1 253.9h4.6V275.1h-4.6Z M1268.1 217.2h1.2V255.8h-1.2Z M1266.4 223.0h4.6V254.9h-4.6Z M1278.9 196.0h1.2V225.0h-1.2Z M1277.2 199.8h4.6V223.0h-4.6Z M1305.6 262.5h1.2V301.0h-1.2Z M1303.9 268.2h4.6V295.2h-4.6Z M1311.0 234.0h1.2V275.3h-1.2Z M1309.3 255.4h4.6V268.2h-4.6Z M1321.7 245.4h1.2V269.6h-1.2Z M1320.0 256.0h4.6V258.0h-4.6Z M1327.1 228.4h1.2V266.1h-1.2Z M1325.4 259.7h4.6V265.3h-4.6Z M1337.8 231.2h1.2V266.8h-1.2Z M1336.1 238.3h4.6V266.0h-4.6Z M1343.1 224.1h1.2V244.0h-1.2Z M1341.4 233.3h4.6V239.0h-4.6Z M1353.8 241.2h1.2V254.0h-1.2Z M1352.1 245.4h4.6V251.1h-4.6Z M1359.2 234.0h1.2V266.8h-1.2Z M1357.5 239.7h4.6V245.4h-4.6Z M1380.6 242.6h1.2V266.8h-1.2Z M1378.9 251.1h4.6V264.0h-4.6Z M1386.0 217.0h1.2V259.7h-1.2Z M1384.3 220.5h4.6V252.5h-4.6Z M1402.0 240.5h1.2V263.2h-1.2Z M1400.3 246.9h4.6V262.5h-4.6Z M1407.4 228.4h1.2V251.1h-1.2Z M1405.7 242.6h4.6V248.3h-4.6Z M1423.4 254.0h1.2V292.4h-1.2Z M1421.7 259.0h4.6V281.7h-4.6Z M1428.8 233.3h1.2V262.5h-1.2Z M1427.1 239.7h4.6V259.7h-4.6Z" fill="#26a69a"/>
<path d="M4.4 486.0h1.2V526.0h-1.2Z M2.7 497.0h4.6V511.5h-4.6Z M15.1 492.0h1.2V515.0h-1.2Z M13.4 501.0h4.6V507.0h-4.6Z M25.8 502.0h1.2V544.0h-1.2Z M24.1 507.7h4.6V531.8h-4.6Z M31.1 527.0h1.2V561.0h-1.2Z M29.4 532.0h4.6V551.0h-4.6Z M36.5 548.0h1.2V595.5h-1.2Z M34.8 551.0h4.6V586.0h-4.6Z M41.8 569.5h1.2V614.0h-1.2Z M40.1 586.0h4.6V599.0h-4.6Z M47.2 590.7h1.2V631.0h-1.2Z M45.5 599.0h4.6V608.0h-4.6Z M79.3 534.0h1.2V564.6h-1.2Z M77.6 548.0h4.6V551.0h-4.6Z M90.0 526.0h1.2V561.0h-1.2Z M88.3 540.5h4.6V554.0h-4.6Z M100.8 535.7h1.2V586.0h-1.2Z M99.1 547.0h4.6V561.0h-4.6Z M111.5 526.0h1.2V544.4h-1.2Z M109.8 530.0h4.6V540.5h-4.6Z M127.5 509.6h1.2V542.7h-1.2Z M125.8 510.7h4.6V541.6h-4.6Z M132.9 527.7h1.2V565.0h-1.2Z M131.2 531.0h4.6V559.7h-4.6Z M143.6 545.9h1.2V579.0h-1.2Z M141.9 548.0h4.6V571.5h-4.6Z M154.3 550.0h1.2V569.3h-1.2Z M152.6 551.0h4.6V556.5h-4.6Z M170.4 545.9h1.2V625.9h-1.2Z M168.7 548.0h4.6V610.0h-4.6Z M181.1 584.3h1.2V613.0h-1.2Z M179.4 592.8h4.6V604.5h-4.6Z M191.8 591.7h1.2V623.7h-1.2Z M190.1 592.8h4.6V622.7h-4.6Z M197.1 615.2h1.2V643.0h-1.2Z M195.4 622.7h4.6V628.0h-4.6Z M218.6 597.0h1.2V623.7h-1.2Z M216.9 604.5h4.6V621.6h-4.6Z M229.3 615.2h1.2V688.8h-1.2Z M227.6 616.3h4.6V687.7h-4.6Z M234.6 666.4h1.2V704.8h-1.2Z M232.9 687.7h4.6V695.2h-4.6Z M245.3 548.0h1.2V593.9h-1.2Z M243.6 556.5h4.6V565.0h-4.6Z M256.0 549.0h1.2V576.8h-1.2Z M254.3 552.3h4.6V573.6h-4.6Z M261.4 571.5h1.2V613.0h-1.2Z M259.7 572.5h4.6V612.0h-4.6Z M266.8 571.5h1.2V625.9h-1.2Z M265.1 600.3h4.6V612.0h-4.6Z M272.1 610.9h1.2V647.2h-1.2Z M270.4 612.0h4.6V638.7h-4.6Z M277.5 637.6h1.2V675.0h-1.2Z M275.8 637.6h4.6V664.3h-4.6Z M282.8 638.4h1.2V669.7h-1.2Z M281.1 664.0h4.6V668.6h-4.6Z M298.9 597.0h1.2V639.6h-1.2Z M297.2 619.4h4.6V621.7h-4.6Z M309.6 619.4h1.2V636.0h-1.2Z M307.9 620.6h4.6V635.0h-4.6Z M315.0 631.7h1.2V657.4h-1.2Z M313.3 634.0h4.6V647.4h-4.6Z M325.7 609.4h1.2V638.4h-1.2Z M324.0 629.5h4.6V631.7h-4.6Z M336.4 612.7h1.2V673.0h-1.2Z M334.7 622.8h4.6V663.0h-4.6Z M368.5 632.8h1.2V663.0h-1.2Z M366.8 634.0h4.6V653.0h-4.6Z M379.2 640.7h1.2V676.4h-1.2Z M377.5 648.5h4.6V674.2h-4.6Z M384.6 658.5h1.2V696.5h-1.2Z M382.9 674.2h4.6V689.8h-4.6Z M389.9 685.4h1.2V727.8h-1.2Z M388.2 688.7h4.6V714.4h-4.6Z M400.6 657.4h1.2V703.2h-1.2Z M398.9 685.4h4.6V699.9h-4.6Z M411.3 674.2h1.2V694.3h-1.2Z M409.6 676.4h4.6V683.1h-4.6Z M427.4 664.0h1.2V686.5h-1.2Z M425.7 666.4h4.6V683.0h-4.6Z M432.8 679.8h1.2V720.0h-1.2Z M431.1 682.0h4.6V707.7h-4.6Z M448.8 707.5h1.2V746.0h-1.2Z M447.1 711.0h4.6V738.0h-4.6Z M475.6 627.0h1.2V670.2h-1.2Z M473.9 632.8h4.6V667.8h-4.6Z M486.3 637.5h1.2V679.5h-1.2Z M484.6 658.5h4.6V664.3h-4.6Z M497.0 656.0h1.2V676.0h-1.2Z M495.3 664.3h4.6V672.5h-4.6Z M507.7 655.0h1.2V685.3h-1.2Z M506.0 656.0h4.6V683.0h-4.6Z M513.1 672.5h1.2V695.8h-1.2Z M511.4 681.8h4.6V686.5h-4.6Z M523.8 655.0h1.2V680.7h-1.2Z M522.1 670.0h4.6V672.5h-4.6Z M529.2 662.0h1.2V681.8h-1.2Z M527.5 665.5h4.6V678.3h-4.6Z M572.0 530.0h1.2V568.5h-1.2Z M570.3 547.5h4.6V560.4h-4.6Z M577.4 535.8h1.2V577.9h-1.2Z M575.7 560.4h4.6V567.4h-4.6Z M582.7 565.0h1.2V616.4h-1.2Z M581.0 566.2h4.6V613.0h-4.6Z M614.8 499.0h1.2V532.0h-1.2Z M613.1 511.0h4.6V528.4h-4.6Z M620.2 518.0h1.2V542.0h-1.2Z M618.5 521.5h4.6V537.0h-4.6Z M625.5 528.4h1.2V563.0h-1.2Z M623.8 535.0h4.6V556.0h-4.6Z M630.9 525.0h1.2V580.0h-1.2Z M629.2 554.0h4.6V577.0h-4.6Z M663.0 449.0h1.2V470.0h-1.2Z M661.3 461.0h4.6V466.0h-4.6Z M689.8 291.7h1.2V345.3h-1.2Z M688.1 319.4h4.6V343.6h-4.6Z M695.2 338.4h1.2V354.0h-1.2Z M693.5 341.8h4.6V352.2h-4.6Z M716.6 288.0h1.2V319.0h-1.2Z M714.9 299.7h4.6V309.3h-4.6Z M721.9 284.8h1.2V325.3h-1.2Z M720.2 308.3h4.6V320.0h-4.6Z M732.6 298.7h1.2V330.7h-1.2Z M730.9 315.7h4.6V319.0h-4.6Z M743.4 315.7h1.2V347.7h-1.2Z M741.7 317.9h4.6V337.0h-4.6Z M780.8 179.2h1.2V204.8h-1.2Z M779.1 192.0h4.6V199.5h-4.6Z M791.6 188.8h1.2V233.6h-1.2Z M789.9 196.3h4.6V229.3h-4.6Z M796.9 200.5h1.2V260.3h-1.2Z M795.2 227.2h4.6V258.1h-4.6Z M807.6 245.3h1.2V307.2h-1.2Z M805.9 249.6h4.6V291.2h-4.6Z M818.3 257.0h1.2V290.0h-1.2Z M816.6 264.5h4.6V281.6h-4.6Z M823.7 260.3h1.2V305.0h-1.2Z M822.0 281.6h4.6V303.0h-4.6Z M829.0 300.8h1.2V324.3h-1.2Z M827.3 303.0h4.6V313.6h-4.6Z M834.4 311.5h1.2V335.0h-1.2Z M832.7 313.6h4.6V326.4h-4.6Z M839.7 309.0h1.2V335.0h-1.2Z M838.0 324.2h4.6V326.5h-4.6Z M845.1 319.8h1.2V368.0h-1.2Z M843.4 325.6h4.6V366.0h-4.6Z M850.5 339.0h1.2V373.8h-1.2Z M848.8 366.0h4.6V371.0h-4.6Z M855.8 356.5h1.2V384.4h-1.2Z M854.1 370.0h4.6V374.8h-4.6Z M861.2 360.3h1.2V388.3h-1.2Z M859.5 373.8h4.6V380.6h-4.6Z M866.5 366.0h1.2V411.5h-1.2Z M864.8 378.6h4.6V384.4h-4.6Z M882.6 308.2h1.2V337.1h-1.2Z M880.9 328.5h4.6V336.2h-4.6Z M898.7 258.0h1.2V315.0h-1.2Z M897.0 289.0h4.6V304.3h-4.6Z M909.4 274.4h1.2V299.5h-1.2Z M907.7 287.0h4.6V294.7h-4.6Z M914.7 277.3h1.2V305.3h-1.2Z M913.0 293.7h4.6V304.3h-4.6Z M920.1 288.0h1.2V353.5h-1.2Z M918.4 304.3h4.6V339.0h-4.6Z M930.8 309.2h1.2V351.6h-1.2Z M929.1 320.7h4.6V335.2h-4.6Z M941.5 253.2h1.2V282.1h-1.2Z M939.8 263.8h4.6V278.3h-4.6Z M946.8 261.9h1.2V293.7h-1.2Z M945.1 277.3h4.6V286.0h-4.6Z M952.2 274.4h1.2V301.4h-1.2Z M950.5 290.0h4.6V296.6h-4.6Z M957.6 287.9h1.2V318.8h-1.2Z M955.9 296.6h4.6V316.0h-4.6Z M968.3 286.0h1.2V337.0h-1.2Z M966.6 293.7h4.6V324.6h-4.6Z M979.0 311.0h1.2V328.5h-1.2Z M977.3 315.0h4.6V326.5h-4.6Z M1005.8 242.6h1.2V282.0h-1.2Z M1004.1 255.0h4.6V271.5h-4.6Z M1011.1 261.9h1.2V280.2h-1.2Z M1009.4 271.5h4.6V276.4h-4.6Z M1027.2 216.5h1.2V278.3h-1.2Z M1025.5 220.4h4.6V274.4h-4.6Z M1032.5 262.9h1.2V294.7h-1.2Z M1030.8 264.8h4.6V291.8h-4.6Z M1048.6 251.3h1.2V287.0h-1.2Z M1046.9 267.7h4.6V286.0h-4.6Z M1064.7 225.2h1.2V241.6h-1.2Z M1063.0 234.9h4.6V238.7h-4.6Z M1075.4 183.7h1.2V230.0h-1.2Z M1073.7 189.5h4.6V228.0h-4.6Z M1102.1 161.5h1.2V186.6h-1.2Z M1100.4 173.1h4.6V181.8h-4.6Z M1107.5 168.3h1.2V206.9h-1.2Z M1105.8 180.0h4.6V185.6h-4.6Z M1112.9 173.1h1.2V206.9h-1.2Z M1111.2 183.7h4.6V200.0h-4.6Z M1118.2 181.8h1.2V209.8h-1.2Z M1116.5 197.2h4.6V207.8h-4.6Z M1134.3 126.8h1.2V173.0h-1.2Z M1132.6 133.5h4.6V168.3h-4.6Z M1139.6 156.7h1.2V177.9h-1.2Z M1137.9 170.2h4.6V174.0h-4.6Z M1145.0 170.0h1.2V201.8h-1.2Z M1143.3 172.8h4.6V197.9h-4.6Z M1150.3 181.5h1.2V212.4h-1.2Z M1148.6 196.0h4.6V198.0h-4.6Z M1155.7 192.0h1.2V271.3h-1.2Z M1154.0 198.0h4.6V255.8h-4.6Z M1177.1 191.2h1.2V244.2h-1.2Z M1175.4 195.0h4.6V243.3h-4.6Z M1182.5 232.7h1.2V253.9h-1.2Z M1180.8 242.3h4.6V252.0h-4.6Z M1193.2 237.5h1.2V302.2h-1.2Z M1191.5 238.5h4.6V278.0h-4.6Z M1209.2 215.3h1.2V238.5h-1.2Z M1207.5 217.2h4.6V231.7h-4.6Z M1220.0 197.9h1.2V230.7h-1.2Z M1218.3 206.6h4.6V213.4h-4.6Z M1225.3 211.4h1.2V268.4h-1.2Z M1223.6 213.4h4.6V255.8h-4.6Z M1236.0 242.3h1.2V279.0h-1.2Z M1234.3 244.2h4.6V277.0h-4.6Z M1246.7 253.9h1.2V290.6h-1.2Z M1245.0 256.8h4.6V287.7h-4.6Z M1252.1 282.9h1.2V316.6h-1.2Z M1250.4 286.7h4.6V305.0h-4.6Z M1273.5 216.3h1.2V238.5h-1.2Z M1271.8 217.2h4.6V223.0h-4.6Z M1284.2 183.4h1.2V217.2h-1.2Z M1282.5 199.8h4.6V211.4h-4.6Z M1289.6 196.0h1.2V217.2h-1.2Z M1287.9 206.6h4.6V210.5h-4.6Z M1294.9 207.6h1.2V271.3h-1.2Z M1293.2 208.5h4.6V267.4h-4.6Z M1300.3 261.0h1.2V301.0h-1.2Z M1298.6 266.8h4.6V295.2h-4.6Z M1316.3 224.0h1.2V275.3h-1.2Z M1314.6 255.4h4.6V259.0h-4.6Z M1332.4 248.3h1.2V279.6h-1.2Z M1330.7 256.8h4.6V266.0h-4.6Z M1348.5 219.8h1.2V254.0h-1.2Z M1346.8 233.3h4.6V253.3h-4.6Z M1364.5 209.0h1.2V244.7h-1.2Z M1362.8 239.7h4.6V243.3h-4.6Z M1369.9 229.8h1.2V248.3h-1.2Z M1368.2 240.5h4.6V246.9h-4.6Z M1375.2 234.0h1.2V266.8h-1.2Z M1373.5 245.4h4.6V264.0h-4.6Z M1391.3 208.4h1.2V228.4h-1.2Z M1389.6 220.5h4.6V224.1h-4.6Z M1396.7 221.3h1.2V264.0h-1.2Z M1395.0 223.4h4.6V262.5h-4.6Z M1412.7 228.4h1.2V271.0h-1.2Z M1411.0 242.6h4.6V258.2h-4.6Z M1418.1 255.4h1.2V301.0h-1.2Z M1416.4 256.8h4.6V281.7h-4.6Z M1434.2 234.8h1.2V251.8h-1.2Z M1432.5 246.9h4.6V251.1h-4.6Z" fill="#ef5350"/>
<path d="M0 251H1492" stroke="#e07060" stroke-width="1" stroke-dasharray="1 2"/>
<rect x="0" y="185.3" width="1492" height="4.6" fill="#dd1111"/>
<rect x="0" y="215.2" width="1492" height="4" fill="#14262a"/>
<rect x="0" y="255.5" width="1492" height="4" fill="#0a10e8"/>
<rect x="0" y="301.8" width="1492" height="4" fill="#e4832e"/>
<g fill="#1a1aa8"><circle cx="905.2" cy="269.8" r="1.6"/><circle cx="913.0" cy="266.0" r="1.6"/><circle cx="920.8" cy="262.2" r="1.6"/><circle cx="928.6" cy="258.4" r="1.6"/><circle cx="936.4" cy="254.6" r="1.6"/><circle cx="944.2" cy="250.8" r="1.6"/><circle cx="952.0" cy="247.0" r="1.6"/><circle cx="959.9" cy="243.1" r="1.6"/><circle cx="967.7" cy="239.3" r="1.6"/><circle cx="975.5" cy="235.5" r="1.6"/><circle cx="983.3" cy="231.7" r="1.6"/><circle cx="991.1" cy="227.9" r="1.6"/><circle cx="998.9" cy="224.1" r="1.6"/><circle cx="1006.7" cy="220.3" r="1.6"/><circle cx="1014.5" cy="216.5" r="1.6"/><circle cx="1022.3" cy="212.7" r="1.6"/><circle cx="1030.1" cy="208.9" r="1.6"/><circle cx="1037.9" cy="205.1" r="1.6"/><circle cx="1045.7" cy="201.3" r="1.6"/><circle cx="1053.5" cy="197.5" r="1.6"/><circle cx="1061.4" cy="193.6" r="1.6"/><circle cx="1069.2" cy="189.8" r="1.6"/><circle cx="1077.0" cy="186.0" r="1.6"/><circle cx="1084.8" cy="182.2" r="1.6"/><circle cx="1092.6" cy="178.4" r="1.6"/><circle cx="1100.4" cy="174.6" r="1.6"/><circle cx="1108.2" cy="170.8" r="1.6"/><circle cx="883.2" cy="366.4" r="1.6"/><circle cx="890.9" cy="362.4" r="1.6"/><circle cx="898.6" cy="358.4" r="1.6"/><circle cx="906.2" cy="354.4" r="1.6"/><circle cx="913.9" cy="350.4" r="1.6"/><circle cx="921.6" cy="346.4" r="1.6"/><circle cx="929.3" cy="342.3" r="1.6"/><circle cx="937.0" cy="338.3" r="1.6"/><circle cx="944.6" cy="334.3" r="1.6"/><circle cx="952.3" cy="330.3" r="1.6"/><circle cx="960.0" cy="326.3" r="1.6"/><circle cx="967.7" cy="322.3" r="1.6"/><circle cx="975.3" cy="318.3" r="1.6"/><circle cx="983.0" cy="314.3" r="1.6"/><circle cx="990.7" cy="310.3" r="1.6"/><circle cx="998.4" cy="306.3" r="1.6"/><circle cx="1006.1" cy="302.3" r="1.6"/><circle cx="1013.7" cy="298.2" r="1.6"/><circle cx="1021.4" cy="294.2" r="1.6"/><circle cx="1029.1" cy="290.2" r="1.6"/><circle cx="1036.8" cy="286.2" r="1.6"/><circle cx="1044.5" cy="282.2" r="1.6"/><circle cx="1052.1" cy="278.2" r="1.6"/><circle cx="1059.8" cy="274.2" r="1.6"/><circle cx="1067.5" cy="270.2" r="1.6"/><circle cx="1075.2" cy="266.2" r="1.6"/><circle cx="1082.9" cy="262.2" r="1.6"/><circle cx="1090.5" cy="258.1" r="1.6"/><circle cx="1098.2" cy="254.1" r="1.6"/><circle cx="1105.9" cy="250.1" r="1.6"/><circle cx="1113.6" cy="246.1" r="1.6"/><circle cx="1121.3" cy="242.1" r="1.6"/><circle cx="1128.9" cy="238.1" r="1.6"/><circle cx="1136.6" cy="234.1" r="1.6"/><circle cx="1144.3" cy="230.1" r="1.6"/><circle cx="1152.0" cy="226.1" r="1.6"/><circle cx="1159.6" cy="222.1" r="1.6"/><circle cx="1167.3" cy="218.1" r="1.6"/><circle cx="1175.0" cy="214.0" r="1.6"/><circle cx="1182.7" cy="210.0" r="1.6"/><circle cx="1190.4" cy="206.0" r="1.6"/><circle cx="1198.0" cy="202.0" r="1.6"/><circle cx="1205.7" cy="198.0" r="1.6"/><circle cx="1213.4" cy="194.0" r="1.6"/></g>
<path d="M0 848.0H1488M0 930.4H1488" stroke="#aaa6b8" stroke-width="1.2" stroke-dasharray="5 4"/>
<polyline points="5.0,892.2 10.3,887.9 15.7,890.5 21.0,888.7 26.4,900.8 31.7,907.9 37.1,919.1 42.4,922.7 47.8,925.3 53.2,924.1 58.5,913.0 63.9,897.7 69.2,896.2 74.6,890.9 79.9,894.6 85.3,889.3 90.6,895.8 96.0,891.6 101.4,898.9 106.7,883.2 112.1,888.5 117.4,877.4 122.8,875.5 128.1,890.8 133.5,898.8 138.8,892.9 144.2,902.9 149.6,892.8 154.9,895.3 160.3,892.5 165.6,890.9 171.0,916.0 176.3,906.5 181.7,911.0 187.0,904.9 192.4,915.2 197.7,916.9 203.1,907.1 208.5,904.8 213.8,903.7 219.2,911.1 224.5,907.9 229.9,930.7 235.2,932.6 240.6,878.1 245.9,880.8 251.3,877.3 256.6,884.5 262.0,896.2 267.4,896.2 272.7,904.0 278.1,910.8 283.4,911.9 288.8,908.2 294.1,892.7 299.5,893.5 304.8,892.6 310.2,898.3 315.6,902.6 320.9,894.8 326.3,895.7 331.6,892.1 337.0,907.1 342.3,896.4 347.7,898.9 353.0,895.9 358.4,895.3 363.8,893.1 369.1,901.7 374.5,899.5 379.8,910.2 385.2,916.1 390.5,924.4 395.9,916.7 401.2,915.4 406.6,901.4 411.9,904.3 417.3,898.5 422.7,893.9 428.0,902.7 433.4,913.2 438.7,909.4 444.1,913.3 449.4,923.5 454.8,910.1 460.1,884.3 465.5,880.1 470.9,871.8 476.2,888.0 481.6,884.4 486.9,886.9 492.3,886.3 497.6,890.9 503.0,883.1 508.3,895.7 513.7,897.2 519.0,889.6 524.4,890.2 529.8,893.2 535.1,876.5 540.5,873.0 545.8,860.5 551.2,854.8 556.5,854.0 561.9,852.1 567.2,843.0 572.6,851.9 578.0,856.6 583.3,882.3 588.7,881.3 594.0,876.4 599.4,870.7 604.7,860.0 610.1,847.3 615.4,857.0 620.8,861.6 626.1,871.5 631.5,881.5 636.9,876.8 642.2,863.5 647.6,857.1 652.9,850.9 658.3,846.9 663.6,849.7 669.0,844.3 674.3,832.0 679.7,828.1 685.1,824.0 690.4,836.5 695.8,840.8 701.1,837.5 706.5,832.9 711.8,832.0 717.2,837.4 722.5,843.4 727.9,842.5 733.2,844.5 738.6,844.2 744.0,856.4 749.3,853.5 754.7,844.2 760.0,836.6 765.4,835.9 770.7,828.3 776.1,824.5 781.4,829.4 786.8,828.2 792.2,850.6 797.5,865.3 802.9,862.8 808.2,881.5 813.6,872.9 818.9,879.9 824.3,888.2 829.6,892.1 835.0,896.8 840.3,896.8 845.7,910.5 851.1,912.1 856.4,913.3 861.8,915.3 867.1,916.6 872.5,908.1 877.8,887.5 883.2,890.9 888.5,880.1 893.9,871.1 899.3,879.5 904.6,873.0 910.0,876.8 915.3,881.6 920.7,897.0 926.0,888.5 931.4,894.9 936.7,869.2 942.1,875.3 947.4,878.5 952.8,882.9 958.2,890.7 963.5,882.2 968.9,894.1 974.2,889.6 979.6,894.7 984.9,893.9 990.3,882.4 995.6,869.0 1001.0,867.3 1006.4,876.6 1011.7,878.8 1017.1,876.6 1022.4,860.2 1027.8,883.1 1033.1,889.3 1038.5,883.4 1043.8,880.8 1049.2,888.3 1054.5,880.1 1059.9,871.0 1065.3,873.0 1070.6,859.5 1076.0,874.8 1081.3,873.7 1086.7,871.7 1092.0,865.7 1097.4,859.2 1102.7,863.3 1108.1,865.1 1113.5,872.2 1118.8,875.9 1124.2,861.2 1129.5,853.6 1134.9,869.7 1140.2,872.1 1145.6,882.1 1150.9,882.1 1156.3,902.9 1161.6,893.4 1167.0,888.3 1172.4,881.1 1177.7,897.5 1183.1,900.1 1188.4,894.3 1193.8,906.8 1199.1,896.6 1204.5,885.9 1209.8,890.6 1215.2,881.9 1220.6,885.2 1225.9,898.5 1231.3,894.6 1236.6,904.1 1242.0,896.9 1247.3,905.6 1252.7,910.1 1258.0,898.9 1263.4,892.1 1268.7,882.5 1274.1,882.5 1279.5,875.5 1284.8,879.9 1290.2,879.6 1295.5,899.4 1300.9,907.3 1306.2,897.4 1311.6,893.0 1316.9,894.2 1322.3,893.0 1327.7,894.4 1333.0,896.8 1338.4,885.2 1343.7,883.2 1349.1,891.9 1354.4,888.4 1359.8,885.9 1365.1,887.7 1370.5,889.5 1375.8,897.9 1381.2,890.9 1386.6,876.5 1391.9,878.5 1397.3,897.2 1402.6,889.8 1408.0,887.7 1413.3,895.1 1418.7,905.2 1424.0,893.6 1429.4,884.9 1434.8,890.2" fill="none" stroke="#ec8a62" stroke-width="1.4"/>
<rect x="0" y="807.8" width="1550" height="1.6" fill="#66686f"/>
<rect x="0" y="945.8" width="1550" height="1.6" fill="#66686f"/>
<rect x="1491.4" y="48" width="1.6" height="930" fill="#707278"/>
<rect x="1493" y="48" width="57" height="760" fill="#fff"/>
<rect x="1493" y="809.5" width="57" height="136" fill="#fff"/>
<rect x="3" y="54" width="587" height="26" fill="#fff" fill-opacity="0.9"/>
<rect x="3" y="80" width="140" height="38" fill="#fff" fill-opacity="0.9"/>
<rect x="3" y="118" width="115" height="27" fill="#fff" fill-opacity="0.9"/>
<rect x="3" y="145" width="212" height="24" fill="#fff" fill-opacity="0.9"/>
<path d="M572.5 48V946" stroke="#707580" stroke-width="1" stroke-dasharray="4 3"/>
<path d="M0 123H1473" stroke="#707580" stroke-width="1" stroke-dasharray="4 4"/>
<rect x="8" y="818" width="100" height="18" fill="#fff" fill-opacity="0.85"/>
<text x="10.6" y="74" font-size="16.5" fill="#5a5d68" textLength="230.7" lengthAdjust="spacingAndGlyphs" >U.S. Dollar / Japanese Yen · 1D · FXCM</text>
<rect x="257.4" y="59.5" width="30" height="19" rx="9.5" fill="#fbe3ea"/>
<path d="M266.9 59.5h-0A9.5 9.5 0 0 0 266.9 78.5Z" fill="#e0f2f1"/>
<rect x="257.4" y="59.5" width="13" height="19" rx="6" fill="#ddf0ee"/>
<ellipse cx="263.3" cy="69" rx="3" ry="3.6" fill="#1c9a8e"/>
<text x="279.4" y="74" font-size="14" fill="#e03d6a" font-weight="bold" text-anchor="middle" >≈</text>
<text x="302.5" y="74" font-size="14.6" fill="#50535e" textLength="6.3" lengthAdjust="spacingAndGlyphs" >O</text>
<text x="309.2" y="74" font-size="14.6" fill="#e1485a" textLength="39.7" lengthAdjust="spacingAndGlyphs" >105.496</text>
<text x="354.7" y="74" font-size="14.6" fill="#50535e" textLength="6.5" lengthAdjust="spacingAndGlyphs" >H</text>
<text x="361.3" y="74" font-size="14.6" fill="#e1485a" textLength="39.7" lengthAdjust="spacingAndGlyphs" >105.768</text>
<text x="406.8" y="74" font-size="14.6" fill="#50535e" textLength="5.5" lengthAdjust="spacingAndGlyphs" >L</text>
<text x="412.4" y="74" font-size="14.6" fill="#e1485a" textLength="39.6" lengthAdjust="spacingAndGlyphs" >105.309</text>
<text x="456.6" y="74" font-size="14.6" fill="#50535e" textLength="6.5" lengthAdjust="spacingAndGlyphs" >C</text>
<text x="463.5" y="74" font-size="14.6" fill="#e1485a" textLength="39.9" lengthAdjust="spacingAndGlyphs" >105.317</text>
<text x="509.4" y="74" font-size="14.6" fill="#e1485a" textLength="32.2" lengthAdjust="spacingAndGlyphs" >−0.179</text>
<text x="545.3" y="74" font-size="14.6" fill="#e1485a" textLength="42.2" lengthAdjust="spacingAndGlyphs" >(−0.17%)</text>
<rect x="10" y="86.2" width="51" height="25.8" rx="3" fill="#fff" stroke="#e9a3a6" stroke-width="1.2"/>
<text x="17" y="104" font-size="13" fill="#e0525a" textLength="35.7" lengthAdjust="spacingAndGlyphs" >109.82</text>
<text x="52.6" y="100.5" font-size="9.5" fill="#e0525a" textLength="4.6" lengthAdjust="spacingAndGlyphs" >2</text>
<text x="68" y="104" font-size="13" fill="#555862" textLength="12" lengthAdjust="spacingAndGlyphs" >0.1</text>
<rect x="88.3" y="86.2" width="51" height="25.8" rx="3" fill="#fff" stroke="#8e9ad6" stroke-width="1.2"/>
<text x="96.3" y="104" font-size="13" fill="#3f58c2" textLength="31.1" lengthAdjust="spacingAndGlyphs" >109.82</text>
<text x="127.6" y="100.5" font-size="9.5" fill="#3f58c2" textLength="4.8" lengthAdjust="spacingAndGlyphs" >3</text>
<text x="10.6" y="136.6" font-size="14.2" fill="#50535e" textLength="57.1" lengthAdjust="spacingAndGlyphs" >EMA 9 close</text>
<text x="76.4" y="136.6" font-size="14.2" fill="#f0a04e" textLength="36.9" lengthAdjust="spacingAndGlyphs" >104.811</text>
<text x="10.6" y="163.5" font-size="14.2" fill="#50535e" textLength="64.4" lengthAdjust="spacingAndGlyphs" >BB 20 close 2</text>
<text x="83.5" y="163.5" font-size="14.2" fill="#8b4f56" textLength="36.8" lengthAdjust="spacingAndGlyphs" >104.191</text>
<text x="128.1" y="163.5" font-size="14.2" fill="#3a8c88" textLength="36.9" lengthAdjust="spacingAndGlyphs" >105.429</text>
<text x="171.6" y="163.5" font-size="14.2" fill="#3a8c88" textLength="37.2" lengthAdjust="spacingAndGlyphs" >102.952</text>
<rect x="11.3" y="175.6" width="22.7" height="21.2" rx="2" fill="#fff" stroke="#e3e5ea" stroke-width="1"/>
<path d="M18.5 189.5l4-4 4 4" fill="none" stroke="#131722" stroke-width="1.6"/>
<text x="9.9" y="833.5" font-size="14.2" fill="#50535e" textLength="58.1" lengthAdjust="spacingAndGlyphs" >RSI 14 close</text>
<text x="75.5" y="833.5" font-size="14.2" fill="#f0a04e" textLength="27.5" lengthAdjust="spacingAndGlyphs" >68.33</text>
<ellipse cx="21.5" cy="922" rx="13.5" ry="18" fill="#fff" stroke="#eef0f3" stroke-width="1.5"/>
<g transform="translate(13.5 913) scale(0.49 0.66)"><path d="M14 22H7V11H0V4h14v18zM28 22h-8l7.5-18h8L28 22z" fill="#131722"/><circle cx="20" cy="8" r="4" fill="#131722"/></g>
<text x="1501.4" y="106.6" font-size="14.6" fill="#50535e" textLength="34.4" lengthAdjust="spacingAndGlyphs" >112.000</text>
<text x="1501.4" y="140.89000000000001" font-size="14.6" fill="#50535e" textLength="34.4" lengthAdjust="spacingAndGlyphs" >111.500</text>
<text x="1501.4" y="175.18" font-size="14.6" fill="#50535e" textLength="34.4" lengthAdjust="spacingAndGlyphs" >111.000</text>
<text x="1501.4" y="209.47000000000003" font-size="14.6" fill="#50535e" textLength="34.4" lengthAdjust="spacingAndGlyphs" >110.500</text>
<text x="1501.4" y="243.76" font-size="14.6" fill="#50535e" textLength="34.4" lengthAdjust="spacingAndGlyphs" >110.000</text>
<text x="1501.4" y="278.05" font-size="14.6" fill="#50535e" textLength="34.4" lengthAdjust="spacingAndGlyphs" >109.500</text>
<text x="1501.4" y="312.34000000000003" font-size="14.6" fill="#50535e" textLength="34.4" lengthAdjust="spacingAndGlyphs" >109.000</text>
<text x="1501.4" y="346.63" font-size="14.6" fill="#50535e" textLength="34.4" lengthAdjust="spacingAndGlyphs" >108.500</text>
<text x="1501.4" y="380.92" font-size="14.6" fill="#50535e" textLength="34.4" lengthAdjust="spacingAndGlyphs" >108.000</text>
<text x="1501.4" y="415.21000000000004" font-size="14.6" fill="#50535e" textLength="34.4" lengthAdjust="spacingAndGlyphs" >107.500</text>
<text x="1501.4" y="449.5" font-size="14.6" fill="#50535e" textLength="34.4" lengthAdjust="spacingAndGlyphs" >107.000</text>
<text x="1501.4" y="483.79" font-size="14.6" fill="#50535e" textLength="34.4" lengthAdjust="spacingAndGlyphs" >106.500</text>
<text x="1501.4" y="518.0799999999999" font-size="14.6" fill="#50535e" textLength="34.4" lengthAdjust="spacingAndGlyphs" >106.000</text>
<text x="1501.4" y="552.3699999999999" font-size="14.6" fill="#50535e" textLength="34.4" lengthAdjust="spacingAndGlyphs" >105.500</text>
<text x="1501.4" y="586.66" font-size="14.6" fill="#50535e" textLength="34.4" lengthAdjust="spacingAndGlyphs" >105.000</text>
<text x="1501.4" y="620.9499999999999" font-size="14.6" fill="#50535e" textLength="34.4" lengthAdjust="spacingAndGlyphs" >104.500</text>
<text x="1501.4" y="655.2399999999999" font-size="14.6" fill="#50535e" textLength="34.4" lengthAdjust="spacingAndGlyphs" >104.000</text>
<text x="1501.4" y="689.5299999999999" font-size="14.6" fill="#50535e" textLength="34.4" lengthAdjust="spacingAndGlyphs" >103.500</text>
<text x="1501.4" y="723.8199999999999" font-size="14.6" fill="#50535e" textLength="34.4" lengthAdjust="spacingAndGlyphs" >103.000</text>
<text x="1501.4" y="758.1099999999999" font-size="14.6" fill="#50535e" textLength="34.4" lengthAdjust="spacingAndGlyphs" >102.500</text>
<text x="1501.4" y="792.3999999999999" font-size="14.6" fill="#50535e" textLength="34.4" lengthAdjust="spacingAndGlyphs" >102.000</text>
<text x="1500.3" y="832.6999999999999" font-size="14.6" fill="#50535e" textLength="25" lengthAdjust="spacingAndGlyphs" >80.00</text>
<text x="1500.3" y="873.9" font-size="14.6" fill="#50535e" textLength="25" lengthAdjust="spacingAndGlyphs" >60.00</text>
<text x="1500.3" y="915.1" font-size="14.6" fill="#50535e" textLength="25" lengthAdjust="spacingAndGlyphs" >40.00</text>
<rect x="1492.5" y="111.9" width="49.5" height="22.900000000000006" fill="#131722"/>
<text x="1500.5" y="128.55" font-size="14.5" fill="#fff" textLength="35.5" lengthAdjust="spacingAndGlyphs" font-weight="bold" >111.686</text>
<rect x="1473" y="111.9" width="19" height="22.9" fill="#131722"/>
<ellipse cx="1482.4" cy="123.3" rx="6.2" ry="7.4" fill="none" stroke="#d1d4dc" stroke-width="1.2"/>
<path d="M1482.4 119.5v7.6M1479.2 123.3h6.4" stroke="#fff" stroke-width="1.3"/>
<rect x="1492.5" y="179.2" width="49.5" height="18.5" fill="#e01212"/>
<text x="1500.5" y="193.64999999999998" font-size="14.5" fill="#fff" textLength="35.5" lengthAdjust="spacingAndGlyphs" font-weight="bold" >110.744</text>
<rect x="1492.5" y="208.7" width="49.5" height="17.900000000000006" fill="#173033"/>
<text x="1500.5" y="222.84999999999997" font-size="14.5" fill="#fff" textLength="35.5" lengthAdjust="spacingAndGlyphs" font-weight="bold" >110.312</text>
<rect x="1492.5" y="242" width="52" height="33.7" rx="2" fill="#ef5350"/>
<text x="1500.5" y="257" font-size="14.5" fill="#fff" textLength="35.5" lengthAdjust="spacingAndGlyphs" font-weight="bold" >109.822</text>
<text x="1500.5" y="271.6" font-size="14.5" fill="#fff" textLength="40" lengthAdjust="spacingAndGlyphs" font-weight="bold" >14:12:01</text>
<rect x="1492.5" y="277.3" width="49.5" height="18.30000000000001" fill="#0b10e8"/>
<text x="1500.5" y="291.65000000000003" font-size="14.5" fill="#fff" textLength="35.5" lengthAdjust="spacingAndGlyphs" font-weight="bold" >109.719</text>
<rect x="1492.5" y="296.5" width="49.5" height="17.80000000000001" fill="#e5822d"/>
<text x="1500.5" y="310.59999999999997" font-size="14.5" fill="#fff" textLength="35.5" lengthAdjust="spacingAndGlyphs" font-weight="bold" >109.041</text>
<rect x="1448.7" y="56" width="16" height="23" rx="3" fill="#fff" stroke="#eceef2"/>
<path d="M1456.7 62v11M1453.2 69.5l3.5 3.6 3.5-3.6" fill="none" stroke="#50535e" stroke-width="1.3"/>
<rect x="1469.8" y="56" width="17.3" height="23" rx="3" fill="#fff" stroke="#eceef2"/>
<path d="M1474.5 65.5v-2.5a2.5 2.5 0 0 1 2.5-2.5h3a2.5 2.5 0 0 1 2.5 2.5v2.5M1474.5 69.5v2.5a2.5 2.5 0 0 0 2.5 2.5h3a2.5 2.5 0 0 0 2.5-2.5v-2.5" fill="none" stroke="#50535e" stroke-width="1.3"/>
<text x="1500.5" y="72.5" font-size="13" fill="#50535e" textLength="5" lengthAdjust="spacingAndGlyphs" >1</text>
<rect x="1505.8" y="56" width="29.7" height="23" rx="3" fill="#fff" stroke="#eceef2"/>
<text x="1508.5" y="72.5" font-size="12.5" fill="#50535e" textLength="17.5" lengthAdjust="spacingAndGlyphs" >JPY</text>
<path d="M1528.5 66.5l2 2 2-2" fill="none" stroke="#50535e" stroke-width="1.1"/>
<g><ellipse cx="1453" cy="768.5" rx="9" ry="10.5" fill="#fff" stroke="#f3c98a" stroke-width="1.3"/><ellipse cx="1449.5" cy="768.5" rx="9" ry="10.5" fill="#fff" stroke="#e26a6a" stroke-width="1.5"/><ellipse cx="1446.3" cy="768.5" rx="9" ry="10.5" fill="#fff" stroke="#d9505a" stroke-width="1.5"/><ellipse cx="1446.3" cy="768.5" rx="3" ry="3.6" fill="#e8354c"/><ellipse cx="1454" cy="794" rx="9" ry="10.5" fill="#fff" stroke="#f0b080" stroke-width="1.3"/><ellipse cx="1449" cy="794" rx="9" ry="10.5" fill="#fff" stroke="#e26a6a" stroke-width="1.5"/><ellipse cx="1443" cy="794" rx="9" ry="10.5" fill="#fff" stroke="#e26a6a" stroke-width="1.5"/><clipPath id="usc"><ellipse cx="1434.2" cy="794" rx="8.3" ry="9.8"/></clipPath><ellipse cx="1434.2" cy="794" rx="9" ry="10.5" fill="#fff" stroke="#f0c070" stroke-width="1.5"/><g clip-path="url(#usc)"><path d="M1424 787h20M1424 791h20M1424 795h20M1424 799h20M1424 803h20" stroke="#e0505a" stroke-width="1.8"/><rect x="1424" y="783" width="10" height="9" fill="#3f7fd0"/></g></g>
<text x="88.3" y="967.2" font-size="14.8" fill="#50535e" textLength="15.4" lengthAdjust="spacingAndGlyphs" >Oct</text>
<text x="205.95000000000002" y="967.2" font-size="14.8" fill="#50535e" textLength="16.7" lengthAdjust="spacingAndGlyphs" >Nov</text>
<text x="318.05" y="967.2" font-size="14.8" fill="#50535e" textLength="16.9" lengthAdjust="spacingAndGlyphs" >Dec</text>
<text x="433.0" y="967.2" font-size="14.8" fill="#50535e" textLength="22" lengthAdjust="spacingAndGlyphs" >2021</text>
<text x="649.7" y="967.2" font-size="14.8" fill="#50535e" textLength="17.6" lengthAdjust="spacingAndGlyphs" >Mar</text>
<text x="774.15" y="967.2" font-size="14.8" fill="#50535e" textLength="15.7" lengthAdjust="spacingAndGlyphs" >Apr</text>
<text x="890.0" y="967.2" font-size="14.8" fill="#50535e" textLength="18.4" lengthAdjust="spacingAndGlyphs" >May</text>
<text x="1003.4" y="967.2" font-size="14.8" fill="#50535e" textLength="16.4" lengthAdjust="spacingAndGlyphs" >Jun</text>
<text x="1123.4" y="967.2" font-size="14.8" fill="#50535e" textLength="13.2" lengthAdjust="spacingAndGlyphs" >Jul</text>
<text x="1239.0" y="967.2" font-size="14.8" fill="#50535e" textLength="17" lengthAdjust="spacingAndGlyphs" >Aug</text>
<text x="1356.8500000000001" y="967.2" font-size="14.8" fill="#50535e" textLength="16.7" lengthAdjust="spacingAndGlyphs" >Sep</text>
<text x="1475.2" y="967.2" font-size="14.8" fill="#50535e" textLength="15.6" lengthAdjust="spacingAndGlyphs" >Oct</text>
<rect x="1492.8" y="947.4" width="57" height="30" fill="#fff"/>
<rect x="1491.4" y="946" width="1.6" height="32" fill="#707278"/>
<rect x="542.4" y="947.3" width="61.4" height="25.9" rx="1" fill="#131722"/>
<text x="549" y="967" font-size="13.5" fill="#fff" textLength="46.7" lengthAdjust="spacingAndGlyphs" font-weight="bold" >05 Feb '21</text>
<g transform="translate(1521.3 963)"><path d="M0 -8.5L2 -6 4.6 -6.8 4.8 -4 7.2 -2.8 6 0 7.2 2.8 4.8 4 4.6 6.8 2 6 0 8.5 -2 6 -4.6 6.8 -4.8 4 -7.2 2.8 -6 0 -7.2 -2.8 -4.8 -4 -4.6 -6.8 -2 -6Z" fill="none" stroke="#131722" stroke-width="1.4" transform="scale(0.95 1)"/><ellipse rx="3.5" ry="4.5" fill="none" stroke="#131722" stroke-width="1.2"/></g>
<rect x="0" y="0" width="1554" height="48" fill="#fff"/>
<rect x="0" y="3" width="1554" height="2" fill="#e3e4e8"/>
<rect x="0" y="47.5" width="1550" height="1.2" fill="#e5e7ec"/>
<path d="M87.5 5V47.5M120 5V47.5M153.6 5V47.5M240.4 5V47.5M332 5V47.5M424.6 5V47.5M518.3 5V47.5M583.2 5V47.5M658.5 5V47.5M713 5V47.5M1245.3 5V47.5M1278.6 5V47.5M1381.5 5V47.5M1415 5V47.5M1448.3 5V47.5" stroke="#eceef1" stroke-width="1.5"/>
<text x="10.8" y="31.6" font-size="16.2" fill="#131722" textLength="41.7" lengthAdjust="spacingAndGlyphs" font-weight="bold" >USDJPY</text>
<text x="101.4" y="31.6" font-size="16.2" fill="#131722" textLength="7.2" lengthAdjust="spacingAndGlyphs" >D</text>
<g fill="none" stroke="#131722" stroke-width="1.3"><rect x="132.3" y="18" width="4" height="15.5" rx="0.5"/><path d="M134.3 14.7V18M134.3 33.5V37.9"/><rect x="139.8" y="20.6" width="3.2" height="9.4" rx="0.5"/><path d="M141.4 17.8V20.6M141.4 30V33.7"/></g>
<g fill="none" stroke="#131722" stroke-width="1.4"><ellipse cx="170.2" cy="26.5" rx="7.6" ry="10.2"/><path d="M170.2 21.5v10M166.4 26.5h7.6"/></g>
<text x="184.4" y="31.7" font-size="15.8" fill="#131722" textLength="46.8" lengthAdjust="spacingAndGlyphs" >Compare</text>
<g fill="none" stroke="#131722" stroke-width="1.3"><path d="M260 17.5c-2-1.5-4-0.8-4.4 2.5l-1.6 12.5c-0.4 3-2.3 3.5-4 2.3"/><path d="M253 24.5h5"/><path d="M258.3 29.5l4.5 6M262.8 29.5l-4.5 6"/></g>
<text x="271.5" y="31.7" font-size="15.8" fill="#131722" textLength="51.8" lengthAdjust="spacingAndGlyphs" >Indicators</text>
<g fill="none" stroke="#131722" stroke-width="1.3"><path d="M342.5 35V28.5h3V35M345.5 35V22h4V35M352.8 35V18.4h3.4V35M342 35.2h14.5"/></g>
<text x="363.7" y="31.6" font-size="15.8" fill="#131722" textLength="52" lengthAdjust="spacingAndGlyphs" >Financials</text>
<g fill="none" stroke="#131722" stroke-width="1.3"><path d="M434.6 23.8L439.2 18 443.9 23.4 449.3 17.3"/><path d="M435.4 29v5M438.8 26v8.5M442.2 28v6.5M445.6 27v7.5M449 25.5v9"/></g>
<text x="456.3" y="31.6" font-size="15.8" fill="#131722" textLength="53" lengthAdjust="spacingAndGlyphs" >Templates</text>
<g fill="none" stroke="#131722" stroke-width="1.3"><path d="M538.5 35.5A7.8 9.8 0 1 1 541.8 29"/><path d="M527.3 20.5a3 3 0 0 1 4-3M537 17.5a3 3 0 0 1 4.2 3"/><path d="M532.5 21.5v5.5h-3.5"/><path d="M539.8 30.5v7.5M536.3 34.3h7"/></g>
<text x="549.3" y="31.8" font-size="15.8" fill="#131722" textLength="25.7" lengthAdjust="spacingAndGlyphs" >Alert</text>
<g fill="none" stroke="#131722" stroke-width="1.3" stroke-linejoin="round"><path d="M601 20.5L595 26.6 601 32.7Z"/><path d="M607.5 20.5L601.8 26.6 607.5 32.7Z"/></g>
<text x="615.4" y="31.8" font-size="15.8" fill="#131722" textLength="34.2" lengthAdjust="spacingAndGlyphs" >Replay</text>
<g fill="none" stroke="#131722" stroke-width="1.4"><path d="M669 24.5h5.5c3 0 4.5 2.5 4.5 7.3"/><path d="M672 20.8l-3.3 3.7 3.3 3.7"/></g>
<g fill="none" stroke="#c8cbd2" stroke-width="1.4"><path d="M702 24.5h-5.5c-3 0-4.5 2.5-4.5 7.3"/><path d="M699 20.8l3.3 3.7-3.3 3.7"/></g>
<rect x="1255.2" y="17.7" width="15" height="17.6" rx="2" fill="none" stroke="#131722" stroke-width="1.4"/>
<path d="M1289 35c-3 0-3.8-3-2.6-5.3 -0.8-3 1.5-5 3.5-5 0.8-4.5 4-7 7-7 4 0 6.5 3.5 6.5 8 2.5 0.5 3 3.5 2.5 5.5 -0.5 2.5-2 3.8-4 3.8Z" fill="none" stroke="#131722" stroke-width="1.3" stroke-dasharray="2.2 2"/>
<text x="1310" y="31.7" font-size="15.8" fill="#131722" textLength="48.8" lengthAdjust="spacingAndGlyphs" >Unnamed</text>
<path d="M1370 24.5l3.2 3.6 3.2-3.6" fill="none" stroke="#131722" stroke-width="1.3"/>
<g transform="translate(1398.6 26.2)"><path d="M-1.89 -10.54 L1.89 -10.54 L2.54 -7.12 L2.23 -7.29 L4.63 -9.12 L7.30 -5.79 L5.83 -2.79 L5.70 -3.18 L8.43 -2.36 L8.43 2.36 L5.70 3.18 L5.83 2.79 L7.30 5.79 L4.63 9.12 L2.23 7.29 L2.54 7.12 L1.89 10.54 L-1.89 10.54 L-2.54 7.12 L-2.23 7.29 L-4.63 9.12 L-7.30 5.79 L-5.83 2.79 L-5.70 3.18 L-8.43 2.36 L-8.43 -2.36 L-5.70 -3.18 L-5.83 -2.79 L-7.30 -5.79 L-4.63 -9.12 L-2.23 -7.29 L-2.54 -7.12Z" fill="none" stroke="#131722" stroke-width="1.4" stroke-linejoin="round"/><ellipse rx="2.6" ry="3.4" fill="none" stroke="#131722" stroke-width="1.4"/></g>
<g fill="none" stroke="#131722" stroke-width="1.4"><path d="M1425 22v-4.6h4M1425.2 17.6l4.2 4.6"/><path d="M1438.6 22v-4.6h-4M1438.4 17.6l-4.2 4.6"/><path d="M1425 30.5v4.6h4M1425.2 34.9l4.2-4.6"/><path d="M1438.6 30.5v4.6h-4M1438.4 34.9l-4.2-4.6"/></g>
<g fill="none" stroke="#131722" stroke-width="1.4"><path d="M1457 21.5h3.5l1.5-4h6l1.5 4h3.6v13.3h-16.1Z" stroke-linejoin="round"/><ellipse cx="1465" cy="28" rx="3.5" ry="4.3"/></g>
<rect x="1481.1" y="5" width="68.4" height="42.8" fill="#2962ff"/>
<text x="1495.5" y="32" font-size="16.5" fill="#fff" textLength="40.6" lengthAdjust="spacingAndGlyphs" >Publish</text>
<rect x="0" y="5" width="2.2" height="979" fill="#dcdde2"/>
<rect x="1550" y="0" width="4" height="984" fill="#e6e7eb"/>
<rect x="0" y="977.8" width="1554" height="2.4" fill="#efeff1"/>
</svg></body></html>
